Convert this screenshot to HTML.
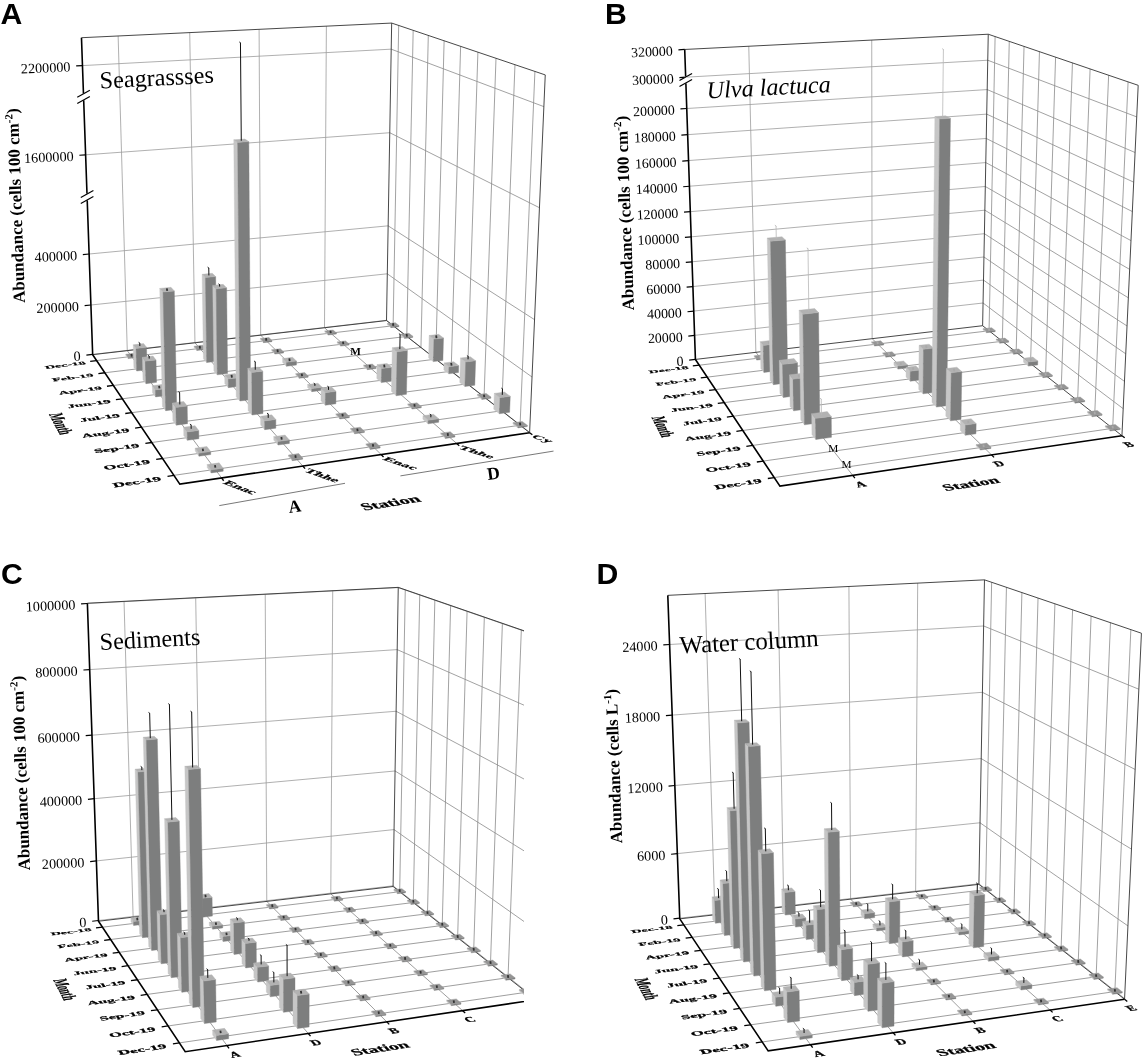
<!DOCTYPE html>
<html><head><meta charset="utf-8"><title>Figure</title><style>html,body{margin:0;padding:0;background:#fff}svg{display:block}</style></head><body>
<svg width="1142" height="1058" viewBox="0 0 1142 1058">
<defs><clipPath id="cc"><rect x="0" y="540" width="524" height="518"/></clipPath></defs>
<rect width="1142" height="1058" fill="#fff"/>
<g>
<line x1="92.66" y1="354.4" x2="386.5" y2="320.31" stroke="#9c9c9c" stroke-width="0.8"/>
<line x1="386.5" y1="320.31" x2="529.61" y2="432.39" stroke="#8a8a8a" stroke-width="0.8"/>
<line x1="90.91" y1="305" x2="387.31" y2="273.8" stroke="#9c9c9c" stroke-width="0.8"/>
<line x1="387.31" y1="273.8" x2="532.03" y2="376.99" stroke="#8a8a8a" stroke-width="0.8"/>
<line x1="89.11" y1="254" x2="388.14" y2="225.84" stroke="#9c9c9c" stroke-width="0.8"/>
<line x1="388.14" y1="225.84" x2="534.54" y2="319.66" stroke="#8a8a8a" stroke-width="0.8"/>
<line x1="85.61" y1="154.8" x2="389.76" y2="132.72" stroke="#9c9c9c" stroke-width="0.8"/>
<line x1="389.76" y1="132.72" x2="539.44" y2="207.73" stroke="#8a8a8a" stroke-width="0.8"/>
<line x1="82.46" y1="65.6" x2="391.21" y2="49.16" stroke="#9c9c9c" stroke-width="0.8"/>
<line x1="391.21" y1="49.16" x2="543.86" y2="106.63" stroke="#8a8a8a" stroke-width="0.8"/>
<line x1="127.28" y1="350.65" x2="118.13" y2="35.98" stroke="#9c9c9c" stroke-width="0.8"/>
<line x1="194.96" y1="342.8" x2="189.72" y2="32.6" stroke="#9c9c9c" stroke-width="0.8"/>
<line x1="260.67" y1="335.17" x2="259.1" y2="29.33" stroke="#9c9c9c" stroke-width="0.8"/>
<line x1="324.49" y1="327.76" x2="326.38" y2="26.15" stroke="#9c9c9c" stroke-width="0.8"/>
<line x1="393.12" y1="325.75" x2="398.69" y2="25.44" stroke="#8a8a8a" stroke-width="0.8"/>
<line x1="406.75" y1="336.43" x2="413.18" y2="30.34" stroke="#8a8a8a" stroke-width="0.8"/>
<line x1="420.94" y1="347.55" x2="428.31" y2="35.44" stroke="#8a8a8a" stroke-width="0.8"/>
<line x1="435.73" y1="359.14" x2="444.11" y2="40.78" stroke="#8a8a8a" stroke-width="0.8"/>
<line x1="451.15" y1="371.22" x2="460.62" y2="46.35" stroke="#8a8a8a" stroke-width="0.8"/>
<line x1="467.25" y1="383.84" x2="477.9" y2="52.18" stroke="#8a8a8a" stroke-width="0.8"/>
<line x1="484.07" y1="397.01" x2="496" y2="58.29" stroke="#8a8a8a" stroke-width="0.8"/>
<line x1="501.65" y1="410.79" x2="514.98" y2="64.7" stroke="#8a8a8a" stroke-width="0.8"/>
<line x1="520.07" y1="425.22" x2="534.91" y2="71.43" stroke="#8a8a8a" stroke-width="0.8"/>
<line x1="96.64" y1="360.57" x2="393.12" y2="325.75" stroke="#858585" stroke-width="0.8"/>
<line x1="104.85" y1="372.75" x2="406.75" y2="336.43" stroke="#858585" stroke-width="0.8"/>
<line x1="113.42" y1="385.47" x2="420.94" y2="347.55" stroke="#858585" stroke-width="0.8"/>
<line x1="122.37" y1="398.77" x2="435.73" y2="359.14" stroke="#858585" stroke-width="0.8"/>
<line x1="131.74" y1="412.67" x2="451.15" y2="371.22" stroke="#858585" stroke-width="0.8"/>
<line x1="141.55" y1="427.23" x2="467.25" y2="383.84" stroke="#858585" stroke-width="0.8"/>
<line x1="151.83" y1="442.49" x2="484.07" y2="397.01" stroke="#858585" stroke-width="0.8"/>
<line x1="162.62" y1="458.51" x2="501.65" y2="410.79" stroke="#858585" stroke-width="0.8"/>
<line x1="173.96" y1="475.34" x2="520.07" y2="425.22" stroke="#858585" stroke-width="0.8"/>
<line x1="127.28" y1="350.65" x2="221.57" y2="477.94" stroke="#858585" stroke-width="0.8"/>
<line x1="194.96" y1="342.8" x2="302.77" y2="466.02" stroke="#858585" stroke-width="0.8"/>
<line x1="260.67" y1="335.17" x2="381.07" y2="454.51" stroke="#858585" stroke-width="0.8"/>
<line x1="324.49" y1="327.76" x2="456.63" y2="443.41" stroke="#858585" stroke-width="0.8"/>
<line x1="81.48" y1="37.71" x2="391.66" y2="23.07" stroke="#333" stroke-width="0.9"/>
<line x1="391.66" y1="23.07" x2="545.25" y2="74.92" stroke="#333" stroke-width="0.9"/>
<line x1="386.5" y1="320.56" x2="391.66" y2="23.07" stroke="#333" stroke-width="0.9"/>
<line x1="529.6" y1="432.69" x2="545.25" y2="74.92" stroke="#333" stroke-width="0.9"/>
<line x1="92.67" y1="354.67" x2="386.5" y2="320.56" stroke="#333" stroke-width="0.9"/>
<line x1="386.5" y1="320.56" x2="529.6" y2="432.69" stroke="#333" stroke-width="0.9"/>
<polygon points="387.3,324.81 390.89,327.64 390.91,326.44 387.32,323.62" fill="#c6c6c6" stroke="#c6c6c6" stroke-width="0.4" stroke-linejoin="round"/>
<polygon points="390.89,327.64 398.95,326.69 398.98,325.49 390.91,326.44" fill="#7d7e7e" stroke="#7d7e7e" stroke-width="0.4" stroke-linejoin="round"/>
<polygon points="387.32,323.62 395.35,322.68 398.98,325.49 390.91,326.44" fill="#959595" stroke="#959595" stroke-width="0.4" stroke-linejoin="round"/>
<line x1="392.94" y1="323.25" x2="393.34" y2="325.85" stroke="#333" stroke-width="1.8"/>
<polygon points="324.79,332.13 328.09,335.04 328.1,333.84 324.8,330.93" fill="#c6c6c6" stroke="#c6c6c6" stroke-width="0.4" stroke-linejoin="round"/>
<polygon points="328.09,335.04 336.39,334.06 336.4,332.87 328.1,333.84" fill="#7d7e7e" stroke="#7d7e7e" stroke-width="0.4" stroke-linejoin="round"/>
<polygon points="324.8,330.93 333.06,329.97 336.4,332.87 328.1,333.84" fill="#959595" stroke="#959595" stroke-width="0.4" stroke-linejoin="round"/>
<line x1="330.39" y1="330.6" x2="330.79" y2="333.2" stroke="#333" stroke-width="1.8"/>
<polygon points="260.44,339.66 263.44,342.66 263.43,341.46 260.43,338.47" fill="#c6c6c6" stroke="#c6c6c6" stroke-width="0.4" stroke-linejoin="round"/>
<polygon points="263.44,342.66 271.98,341.65 271.98,340.46 263.43,341.46" fill="#7d7e7e" stroke="#7d7e7e" stroke-width="0.4" stroke-linejoin="round"/>
<polygon points="260.43,338.47 268.94,337.47 271.98,340.46 263.43,341.46" fill="#959595" stroke="#959595" stroke-width="0.4" stroke-linejoin="round"/>
<line x1="266" y1="338.16" x2="266.4" y2="340.76" stroke="#333" stroke-width="1.8"/>
<polygon points="194.17,347.42 196.84,350.51 196.82,349.31 194.15,346.23" fill="#c6c6c6" stroke="#c6c6c6" stroke-width="0.4" stroke-linejoin="round"/>
<polygon points="196.84,350.51 205.65,349.47 205.63,348.27 196.82,349.31" fill="#7d7e7e" stroke="#7d7e7e" stroke-width="0.4" stroke-linejoin="round"/>
<polygon points="194.15,346.23 202.91,345.2 205.63,348.27 196.82,349.31" fill="#959595" stroke="#959595" stroke-width="0.4" stroke-linejoin="round"/>
<line x1="199.68" y1="345.95" x2="200.08" y2="348.55" stroke="#333" stroke-width="1.8"/>
<polygon points="125.89,355.41 128.22,358.59 128.19,357.39 125.86,354.22" fill="#c6c6c6" stroke="#c6c6c6" stroke-width="0.4" stroke-linejoin="round"/>
<polygon points="128.22,358.59 137.29,357.52 137.26,356.33 128.19,357.39" fill="#7d7e7e" stroke="#7d7e7e" stroke-width="0.4" stroke-linejoin="round"/>
<polygon points="125.86,354.22 134.89,353.17 137.26,356.33 128.19,357.39" fill="#959595" stroke="#959595" stroke-width="0.4" stroke-linejoin="round"/>
<line x1="131.35" y1="353.97" x2="131.75" y2="356.57" stroke="#333" stroke-width="1.8"/>
<polygon points="400.79,335.45 404.53,338.4 404.55,337.2 400.82,334.26" fill="#c6c6c6" stroke="#c6c6c6" stroke-width="0.4" stroke-linejoin="round"/>
<polygon points="404.53,338.4 412.73,337.41 412.76,336.21 404.55,337.2" fill="#7d7e7e" stroke="#7d7e7e" stroke-width="0.4" stroke-linejoin="round"/>
<polygon points="400.82,334.26 408.98,333.28 412.76,336.21 404.55,337.2" fill="#959595" stroke="#959595" stroke-width="0.4" stroke-linejoin="round"/>
<line x1="406.58" y1="333.94" x2="406.98" y2="336.54" stroke="#333" stroke-width="1.8"/>
<polygon points="337.21,343.08 340.65,346.11 340.66,344.91 337.22,341.89" fill="#c6c6c6" stroke="#c6c6c6" stroke-width="0.4" stroke-linejoin="round"/>
<polygon points="340.65,346.11 349.09,345.09 349.1,343.9 340.66,344.91" fill="#7d7e7e" stroke="#7d7e7e" stroke-width="0.4" stroke-linejoin="round"/>
<polygon points="337.22,341.89 345.62,340.88 349.1,343.9 340.66,344.91" fill="#959595" stroke="#959595" stroke-width="0.4" stroke-linejoin="round"/>
<line x1="342.95" y1="341.59" x2="343.35" y2="344.19" stroke="#333" stroke-width="1.8"/>
<polygon points="271.71,350.93 274.84,354.06 274.83,352.86 271.71,349.74" fill="#c6c6c6" stroke="#c6c6c6" stroke-width="0.4" stroke-linejoin="round"/>
<polygon points="274.84,354.06 283.54,353.01 283.54,351.81 274.83,352.86" fill="#7d7e7e" stroke="#7d7e7e" stroke-width="0.4" stroke-linejoin="round"/>
<polygon points="271.71,349.74 280.37,348.7 283.54,351.81 274.83,352.86" fill="#959595" stroke="#959595" stroke-width="0.4" stroke-linejoin="round"/>
<line x1="277.41" y1="349.47" x2="277.81" y2="352.07" stroke="#333" stroke-width="1.8"/>
<polygon points="203.44,358.83 206.69,362.58 205.42,277.58 202.13,274.34" fill="#c6c6c6" stroke="#c6c6c6" stroke-width="0.4" stroke-linejoin="round"/>
<polygon points="206.69,362.58 216.77,361.36 215.67,276.54 205.42,277.58" fill="#7d7e7e" stroke="#7d7e7e" stroke-width="0.4" stroke-linejoin="round"/>
<polygon points="202.13,274.34 212.32,273.31 215.67,276.54 205.42,277.58" fill="#b2b2b2" stroke="#b2b2b2" stroke-width="0.4" stroke-linejoin="round"/>
<line x1="208.89" y1="275.44" x2="208.78" y2="267.94" stroke="#111" stroke-width="1.0"/>
<line x1="209.08" y1="268.24" x2="207.58" y2="267.14" stroke="#111" stroke-width="0.9"/>
<polygon points="133.87,367.16 136.7,371.03 136.08,348.53 133.25,344.8" fill="#c6c6c6" stroke="#c6c6c6" stroke-width="0.4" stroke-linejoin="round"/>
<polygon points="136.7,371.03 147.1,369.78 146.53,347.32 136.08,348.53" fill="#7d7e7e" stroke="#7d7e7e" stroke-width="0.4" stroke-linejoin="round"/>
<polygon points="133.25,344.8 143.63,343.61 146.53,347.32 136.08,348.53" fill="#b2b2b2" stroke="#b2b2b2" stroke-width="0.4" stroke-linejoin="round"/>
<line x1="139.87" y1="346.06" x2="139.79" y2="343.06" stroke="#111" stroke-width="1.0"/>
<line x1="140.09" y1="343.36" x2="138.59" y2="342.26" stroke="#111" stroke-width="0.9"/>
<polygon points="282.64,362.48 286.44,366.28 286.44,362.28 282.64,358.5" fill="#c6c6c6" stroke="#c6c6c6" stroke-width="0.4" stroke-linejoin="round"/>
<polygon points="286.44,366.28 296.41,365.05 296.41,361.05 286.44,362.28" fill="#7d7e7e" stroke="#7d7e7e" stroke-width="0.4" stroke-linejoin="round"/>
<polygon points="282.64,358.5 292.55,357.29 296.41,361.05 286.44,362.28" fill="#b2b2b2" stroke="#b2b2b2" stroke-width="0.4" stroke-linejoin="round"/>
<line x1="289.31" y1="358.48" x2="289.71" y2="361.08" stroke="#333" stroke-width="1.8"/>
<polygon points="213.9,370.92 217.29,374.84 216.18,288.84 212.74,285.45" fill="#c6c6c6" stroke="#c6c6c6" stroke-width="0.4" stroke-linejoin="round"/>
<polygon points="217.29,374.84 227.57,373.57 226.62,287.75 216.18,288.84" fill="#7d7e7e" stroke="#7d7e7e" stroke-width="0.4" stroke-linejoin="round"/>
<polygon points="212.74,285.45 223.12,284.37 226.62,287.75 216.18,288.84" fill="#b2b2b2" stroke="#b2b2b2" stroke-width="0.4" stroke-linejoin="round"/>
<line x1="219.66" y1="286.6" x2="219.64" y2="284.6" stroke="#111" stroke-width="1.0"/>
<line x1="219.94" y1="284.9" x2="218.44" y2="283.8" stroke="#111" stroke-width="0.9"/>
<polygon points="142.99,379.63 145.94,383.67 145.36,361.17 142.4,357.27" fill="#c6c6c6" stroke="#c6c6c6" stroke-width="0.4" stroke-linejoin="round"/>
<polygon points="145.94,383.67 156.55,382.36 156.01,359.91 145.36,361.17" fill="#7d7e7e" stroke="#7d7e7e" stroke-width="0.4" stroke-linejoin="round"/>
<polygon points="142.4,357.27 152.98,356.02 156.01,359.91 145.36,361.17" fill="#b2b2b2" stroke="#b2b2b2" stroke-width="0.4" stroke-linejoin="round"/>
<line x1="149.19" y1="358.59" x2="149.13" y2="356.09" stroke="#111" stroke-width="1.0"/>
<line x1="149.43" y1="356.39" x2="147.93" y2="355.29" stroke="#111" stroke-width="0.9"/>
<polygon points="428.61,357.88 433.34,361.62 433.92,339.12 429.17,335.52" fill="#c6c6c6" stroke="#c6c6c6" stroke-width="0.4" stroke-linejoin="round"/>
<polygon points="433.34,361.62 442.88,360.4 443.5,337.95 433.92,339.12" fill="#7d7e7e" stroke="#7d7e7e" stroke-width="0.4" stroke-linejoin="round"/>
<polygon points="429.17,335.52 438.7,334.37 443.5,337.95 433.92,339.12" fill="#b2b2b2" stroke="#b2b2b2" stroke-width="0.4" stroke-linejoin="round"/>
<line x1="436.12" y1="335.43" x2="436.52" y2="338.03" stroke="#333" stroke-width="1.8"/>
<polygon points="363.63,366.38 367.37,369.68 367.38,368.48 363.64,365.19" fill="#c6c6c6" stroke="#c6c6c6" stroke-width="0.4" stroke-linejoin="round"/>
<polygon points="367.37,369.68 376.12,368.57 376.14,367.37 367.38,368.48" fill="#7d7e7e" stroke="#7d7e7e" stroke-width="0.4" stroke-linejoin="round"/>
<polygon points="363.64,365.19 372.35,364.09 376.14,367.37 367.38,368.48" fill="#959595" stroke="#959595" stroke-width="0.4" stroke-linejoin="round"/>
<line x1="369.68" y1="364.97" x2="370.08" y2="367.57" stroke="#333" stroke-width="1.8"/>
<polygon points="295.72,374.94 299.12,378.34 299.12,377.14 295.72,373.74" fill="#c6c6c6" stroke="#c6c6c6" stroke-width="0.4" stroke-linejoin="round"/>
<polygon points="299.12,378.34 308.15,377.19 308.15,375.99 299.12,377.14" fill="#7d7e7e" stroke="#7d7e7e" stroke-width="0.4" stroke-linejoin="round"/>
<polygon points="295.72,373.74 304.7,372.61 308.15,375.99 299.12,377.14" fill="#959595" stroke="#959595" stroke-width="0.4" stroke-linejoin="round"/>
<line x1="301.72" y1="373.57" x2="302.12" y2="376.17" stroke="#333" stroke-width="1.8"/>
<polygon points="224.82,383.55 228.36,387.64 228.27,378.94 224.72,374.9" fill="#c6c6c6" stroke="#c6c6c6" stroke-width="0.4" stroke-linejoin="round"/>
<polygon points="228.36,387.64 238.84,386.31 238.77,377.63 228.27,378.94" fill="#7d7e7e" stroke="#7d7e7e" stroke-width="0.4" stroke-linejoin="round"/>
<polygon points="224.72,374.9 235.16,373.61 238.77,377.63 228.27,378.94" fill="#b2b2b2" stroke="#b2b2b2" stroke-width="0.4" stroke-linejoin="round"/>
<line x1="231.53" y1="374.96" x2="231.93" y2="377.56" stroke="#333" stroke-width="1.8"/>
<polygon points="152.51,392.66 155.59,396.88 155.42,389.88 152.33,385.7" fill="#c6c6c6" stroke="#c6c6c6" stroke-width="0.4" stroke-linejoin="round"/>
<polygon points="155.59,396.88 166.42,395.51 166.26,388.52 155.42,389.88" fill="#7d7e7e" stroke="#7d7e7e" stroke-width="0.4" stroke-linejoin="round"/>
<polygon points="152.33,385.7 163.1,384.36 166.26,388.52 155.42,389.88" fill="#b2b2b2" stroke="#b2b2b2" stroke-width="0.4" stroke-linejoin="round"/>
<line x1="159.08" y1="385.81" x2="159.48" y2="388.41" stroke="#333" stroke-width="1.8"/>
<polygon points="443.85,369.91 448.78,373.81 448.98,366.81 444.04,362.95" fill="#c6c6c6" stroke="#c6c6c6" stroke-width="0.4" stroke-linejoin="round"/>
<polygon points="448.78,373.81 458.49,372.54 458.71,365.56 448.98,366.81" fill="#7d7e7e" stroke="#7d7e7e" stroke-width="0.4" stroke-linejoin="round"/>
<polygon points="444.04,362.95 453.71,361.72 458.71,365.56 448.98,366.81" fill="#b2b2b2" stroke="#b2b2b2" stroke-width="0.4" stroke-linejoin="round"/>
<line x1="451.16" y1="362.95" x2="451.56" y2="365.55" stroke="#333" stroke-width="1.8"/>
<polygon points="376.82,378.57 381.37,382.59 381.61,368.59 377.04,364.66" fill="#c6c6c6" stroke="#c6c6c6" stroke-width="0.4" stroke-linejoin="round"/>
<polygon points="381.37,382.59 391.4,381.28 391.65,367.31 381.61,368.59" fill="#7d7e7e" stroke="#7d7e7e" stroke-width="0.4" stroke-linejoin="round"/>
<polygon points="377.04,364.66 387.03,363.4 391.65,367.31 381.61,368.59" fill="#b2b2b2" stroke="#b2b2b2" stroke-width="0.4" stroke-linejoin="round"/>
<line x1="384.13" y1="364.68" x2="384.53" y2="367.28" stroke="#333" stroke-width="1.8"/>
<polygon points="307.65,387.51 311.79,391.66 311.81,388.66 307.66,384.53" fill="#c6c6c6" stroke="#c6c6c6" stroke-width="0.4" stroke-linejoin="round"/>
<polygon points="311.79,391.66 322.14,390.31 322.16,387.31 311.81,388.66" fill="#7d7e7e" stroke="#7d7e7e" stroke-width="0.4" stroke-linejoin="round"/>
<polygon points="307.66,384.53 317.95,383.21 322.16,387.31 311.81,388.66" fill="#b2b2b2" stroke="#b2b2b2" stroke-width="0.4" stroke-linejoin="round"/>
<line x1="314.89" y1="385.92" x2="314.9" y2="383.92" stroke="#111" stroke-width="1.0"/>
<line x1="315.2" y1="384.22" x2="313.7" y2="383.12" stroke="#111" stroke-width="0.9"/>
<polygon points="236.24,396.74 239.94,401.02 237.63,142.42 233.77,139.85" fill="#c6c6c6" stroke="#c6c6c6" stroke-width="0.4" stroke-linejoin="round"/>
<polygon points="239.94,401.02 250.63,399.63 248.82,141.61 237.63,142.42" fill="#7d7e7e" stroke="#7d7e7e" stroke-width="0.4" stroke-linejoin="round"/>
<polygon points="233.77,139.85 244.89,139.05 248.82,141.61 237.63,142.42" fill="#b2b2b2" stroke="#b2b2b2" stroke-width="0.4" stroke-linejoin="round"/>
<line x1="241.28" y1="140.73" x2="240.46" y2="42.73" stroke="#111" stroke-width="1.0"/>
<line x1="240.76" y1="43.03" x2="239.26" y2="41.93" stroke="#111" stroke-width="0.9"/>
<polygon points="162.46,406.27 165.69,410.69 163.03,292.09 159.75,288.45" fill="#c6c6c6" stroke="#c6c6c6" stroke-width="0.4" stroke-linejoin="round"/>
<polygon points="165.69,410.69 176.74,409.25 174.32,290.92 163.03,292.09" fill="#7d7e7e" stroke="#7d7e7e" stroke-width="0.4" stroke-linejoin="round"/>
<polygon points="159.75,288.45 170.97,287.29 174.32,290.92 163.03,292.09" fill="#b2b2b2" stroke="#b2b2b2" stroke-width="0.4" stroke-linejoin="round"/>
<line x1="166.82" y1="288.38" x2="167.22" y2="290.98" stroke="#333" stroke-width="1.8"/>
<polygon points="459.75,382.47 464.9,386.54 465.68,361.94 460.5,358.02" fill="#c6c6c6" stroke="#c6c6c6" stroke-width="0.4" stroke-linejoin="round"/>
<polygon points="464.9,386.54 474.79,385.21 475.61,360.66 465.68,361.94" fill="#7d7e7e" stroke="#7d7e7e" stroke-width="0.4" stroke-linejoin="round"/>
<polygon points="460.5,358.02 470.37,356.77 475.61,360.66 465.68,361.94" fill="#b2b2b2" stroke="#b2b2b2" stroke-width="0.4" stroke-linejoin="round"/>
<line x1="468.04" y1="359.34" x2="468.13" y2="356.34" stroke="#111" stroke-width="1.0"/>
<line x1="468.43" y1="356.64" x2="466.93" y2="355.54" stroke="#111" stroke-width="0.9"/>
<polygon points="391.49,391.52 396.25,395.72 397.1,351.72 392.3,347.8" fill="#c6c6c6" stroke="#c6c6c6" stroke-width="0.4" stroke-linejoin="round"/>
<polygon points="396.25,395.72 406.46,394.35 407.39,350.45 397.1,351.72" fill="#7d7e7e" stroke="#7d7e7e" stroke-width="0.4" stroke-linejoin="round"/>
<polygon points="392.3,347.8 402.53,346.55 407.39,350.45 397.1,351.72" fill="#b2b2b2" stroke="#b2b2b2" stroke-width="0.4" stroke-linejoin="round"/>
<line x1="399.83" y1="349.12" x2="400.12" y2="334.42" stroke="#111" stroke-width="1.0"/>
<line x1="400.42" y1="334.72" x2="398.92" y2="333.62" stroke="#111" stroke-width="0.9"/>
<polygon points="321,400.87 325.33,405.21 325.42,392.71 321.07,388.45" fill="#c6c6c6" stroke="#c6c6c6" stroke-width="0.4" stroke-linejoin="round"/>
<polygon points="325.33,405.21 335.88,403.8 335.99,391.32 325.42,392.71" fill="#7d7e7e" stroke="#7d7e7e" stroke-width="0.4" stroke-linejoin="round"/>
<polygon points="321.07,388.45 331.58,387.09 335.99,391.32 325.42,392.71" fill="#b2b2b2" stroke="#b2b2b2" stroke-width="0.4" stroke-linejoin="round"/>
<line x1="328.51" y1="389.89" x2="328.54" y2="386.89" stroke="#111" stroke-width="1.0"/>
<line x1="328.84" y1="387.19" x2="327.34" y2="386.09" stroke="#111" stroke-width="0.9"/>
<polygon points="248.17,410.54 252.05,415.01 251.76,372.51 247.86,368.31" fill="#c6c6c6" stroke="#c6c6c6" stroke-width="0.4" stroke-linejoin="round"/>
<polygon points="252.05,415.01 262.95,413.55 262.75,371.15 251.76,372.51" fill="#7d7e7e" stroke="#7d7e7e" stroke-width="0.4" stroke-linejoin="round"/>
<polygon points="247.86,368.31 258.78,366.97 262.75,371.15 251.76,372.51" fill="#b2b2b2" stroke="#b2b2b2" stroke-width="0.4" stroke-linejoin="round"/>
<line x1="255.28" y1="369.73" x2="255.23" y2="361.73" stroke="#111" stroke-width="1.0"/>
<line x1="255.53" y1="362.03" x2="254.03" y2="360.93" stroke="#111" stroke-width="0.9"/>
<polygon points="172.88,420.52 176.26,425.15 175.9,407.45 172.51,402.94" fill="#c6c6c6" stroke="#c6c6c6" stroke-width="0.4" stroke-linejoin="round"/>
<polygon points="176.26,425.15 187.54,423.64 187.21,405.98 175.9,407.45" fill="#7d7e7e" stroke="#7d7e7e" stroke-width="0.4" stroke-linejoin="round"/>
<polygon points="172.51,402.94 183.75,401.49 187.21,405.98 175.9,407.45" fill="#b2b2b2" stroke="#b2b2b2" stroke-width="0.4" stroke-linejoin="round"/>
<line x1="179.84" y1="404.46" x2="179.6" y2="392.46" stroke="#111" stroke-width="1.0"/>
<line x1="179.9" y1="392.76" x2="178.4" y2="391.66" stroke="#111" stroke-width="0.9"/>
<polygon points="477.29,395.81 481.91,399.45 481.96,398.25 477.34,394.62" fill="#c6c6c6" stroke="#c6c6c6" stroke-width="0.4" stroke-linejoin="round"/>
<polygon points="481.91,399.45 490.87,398.22 490.91,397.03 481.96,398.25" fill="#7d7e7e" stroke="#7d7e7e" stroke-width="0.4" stroke-linejoin="round"/>
<polygon points="477.34,394.62 486.25,393.4 490.91,397.03 481.96,398.25" fill="#959595" stroke="#959595" stroke-width="0.4" stroke-linejoin="round"/>
<line x1="483.91" y1="394.52" x2="484.31" y2="397.12" stroke="#333" stroke-width="1.8"/>
<polygon points="407.75,405.29 412.02,409.06 412.05,407.86 407.78,404.1" fill="#c6c6c6" stroke="#c6c6c6" stroke-width="0.4" stroke-linejoin="round"/>
<polygon points="412.02,409.06 421.27,407.79 421.3,406.59 412.05,407.86" fill="#7d7e7e" stroke="#7d7e7e" stroke-width="0.4" stroke-linejoin="round"/>
<polygon points="407.78,404.1 416.99,402.85 421.3,406.59 412.05,407.86" fill="#959595" stroke="#959595" stroke-width="0.4" stroke-linejoin="round"/>
<line x1="414.33" y1="404.04" x2="414.73" y2="406.64" stroke="#333" stroke-width="1.8"/>
<polygon points="335.88,415.09 339.77,418.98 339.78,417.78 335.89,413.9" fill="#c6c6c6" stroke="#c6c6c6" stroke-width="0.4" stroke-linejoin="round"/>
<polygon points="339.77,418.98 349.34,417.67 349.35,416.47 339.78,417.78" fill="#7d7e7e" stroke="#7d7e7e" stroke-width="0.4" stroke-linejoin="round"/>
<polygon points="335.89,413.9 345.41,412.61 349.35,416.47 339.78,417.78" fill="#959595" stroke="#959595" stroke-width="0.4" stroke-linejoin="round"/>
<line x1="342.41" y1="413.88" x2="342.81" y2="416.48" stroke="#333" stroke-width="1.8"/>
<polygon points="260.67,424.98 264.72,429.67 264.69,420.97 260.62,416.34" fill="#c6c6c6" stroke="#c6c6c6" stroke-width="0.4" stroke-linejoin="round"/>
<polygon points="264.72,429.67 275.85,428.14 275.83,419.46 264.69,420.97" fill="#7d7e7e" stroke="#7d7e7e" stroke-width="0.4" stroke-linejoin="round"/>
<polygon points="260.62,416.34 271.7,414.85 275.83,419.46 264.69,420.97" fill="#b2b2b2" stroke="#b2b2b2" stroke-width="0.4" stroke-linejoin="round"/>
<line x1="268.21" y1="417.89" x2="268.19" y2="413.89" stroke="#111" stroke-width="1.0"/>
<line x1="268.49" y1="414.19" x2="266.99" y2="413.09" stroke="#111" stroke-width="0.9"/>
<polygon points="183.79,435.46 187.34,440.31 187.18,432.01 183.63,427.21" fill="#c6c6c6" stroke="#c6c6c6" stroke-width="0.4" stroke-linejoin="round"/>
<polygon points="187.34,440.31 198.86,438.73 198.72,430.44 187.18,432.01" fill="#7d7e7e" stroke="#7d7e7e" stroke-width="0.4" stroke-linejoin="round"/>
<polygon points="183.63,427.21 195.09,425.67 198.72,430.44 187.18,432.01" fill="#b2b2b2" stroke="#b2b2b2" stroke-width="0.4" stroke-linejoin="round"/>
<line x1="191.16" y1="428.82" x2="191.09" y2="424.82" stroke="#111" stroke-width="1.0"/>
<line x1="191.39" y1="425.12" x2="189.89" y2="424.02" stroke="#111" stroke-width="0.9"/>
<polygon points="493.73,409.3 499.36,413.75 499.97,397.75 494.32,393.4" fill="#c6c6c6" stroke="#c6c6c6" stroke-width="0.4" stroke-linejoin="round"/>
<polygon points="499.36,413.75 509.62,412.3 510.26,396.33 499.97,397.75" fill="#7d7e7e" stroke="#7d7e7e" stroke-width="0.4" stroke-linejoin="round"/>
<polygon points="494.32,393.4 504.54,392.01 510.26,396.33 499.97,397.75" fill="#b2b2b2" stroke="#b2b2b2" stroke-width="0.4" stroke-linejoin="round"/>
<line x1="502.27" y1="394.86" x2="502.5" y2="388.86" stroke="#111" stroke-width="1.0"/>
<line x1="502.8" y1="389.16" x2="501.3" y2="388.06" stroke="#111" stroke-width="0.9"/>
<polygon points="422.87,419.22 428.08,423.82 428.17,420.32 422.96,415.75" fill="#c6c6c6" stroke="#c6c6c6" stroke-width="0.4" stroke-linejoin="round"/>
<polygon points="428.08,423.82 438.69,422.32 438.79,418.83 428.17,420.32" fill="#7d7e7e" stroke="#7d7e7e" stroke-width="0.4" stroke-linejoin="round"/>
<polygon points="422.96,415.75 433.51,414.28 438.79,418.83 428.17,420.32" fill="#b2b2b2" stroke="#b2b2b2" stroke-width="0.4" stroke-linejoin="round"/>
<line x1="430.85" y1="417.29" x2="430.92" y2="414.79" stroke="#111" stroke-width="1.0"/>
<line x1="431.22" y1="415.09" x2="429.72" y2="413.99" stroke="#111" stroke-width="0.9"/>
<polygon points="350.54,429.74 354.61,433.82 354.63,432.62 350.55,428.55" fill="#c6c6c6" stroke="#c6c6c6" stroke-width="0.4" stroke-linejoin="round"/>
<polygon points="354.61,433.82 364.37,432.44 364.39,431.24 354.63,432.62" fill="#7d7e7e" stroke="#7d7e7e" stroke-width="0.4" stroke-linejoin="round"/>
<polygon points="350.55,428.55 360.26,427.19 364.39,431.24 354.63,432.62" fill="#959595" stroke="#959595" stroke-width="0.4" stroke-linejoin="round"/>
<line x1="357.25" y1="428.6" x2="357.65" y2="431.2" stroke="#333" stroke-width="1.8"/>
<polygon points="273.76,440.12 278.02,445.04 278.01,441.54 273.75,436.64" fill="#c6c6c6" stroke="#c6c6c6" stroke-width="0.4" stroke-linejoin="round"/>
<polygon points="278.02,445.04 289.38,443.43 289.38,439.94 278.01,441.54" fill="#7d7e7e" stroke="#7d7e7e" stroke-width="0.4" stroke-linejoin="round"/>
<polygon points="273.75,436.64 285.05,435.07 289.38,439.94 278.01,441.54" fill="#b2b2b2" stroke="#b2b2b2" stroke-width="0.4" stroke-linejoin="round"/>
<line x1="281.35" y1="436.99" x2="281.75" y2="439.59" stroke="#333" stroke-width="1.8"/>
<polygon points="195.24,451.12 198.96,456.21 198.91,453.21 195.19,448.14" fill="#c6c6c6" stroke="#c6c6c6" stroke-width="0.4" stroke-linejoin="round"/>
<polygon points="198.96,456.21 210.74,454.55 210.69,451.55 198.91,453.21" fill="#7d7e7e" stroke="#7d7e7e" stroke-width="0.4" stroke-linejoin="round"/>
<polygon points="195.19,448.14 206.89,446.51 210.69,451.55 198.91,453.21" fill="#b2b2b2" stroke="#b2b2b2" stroke-width="0.4" stroke-linejoin="round"/>
<line x1="202.72" y1="448.54" x2="203.12" y2="451.14" stroke="#333" stroke-width="1.8"/>
<polygon points="512.9,423.9 517.96,427.89 518.01,426.7 512.95,422.71" fill="#c6c6c6" stroke="#c6c6c6" stroke-width="0.4" stroke-linejoin="round"/>
<polygon points="517.96,427.89 527.26,426.54 527.31,425.35 518.01,426.7" fill="#7d7e7e" stroke="#7d7e7e" stroke-width="0.4" stroke-linejoin="round"/>
<polygon points="512.95,422.71 522.2,421.38 527.31,425.35 518.01,426.7" fill="#959595" stroke="#959595" stroke-width="0.4" stroke-linejoin="round"/>
<line x1="519.92" y1="422.72" x2="520.32" y2="425.32" stroke="#333" stroke-width="1.8"/>
<polygon points="440.67,434.32 445.35,438.45 445.39,437.25 440.7,433.13" fill="#c6c6c6" stroke="#c6c6c6" stroke-width="0.4" stroke-linejoin="round"/>
<polygon points="445.35,438.45 454.97,437.05 455.01,435.86 445.39,437.25" fill="#7d7e7e" stroke="#7d7e7e" stroke-width="0.4" stroke-linejoin="round"/>
<polygon points="440.7,433.13 450.27,431.75 455.01,435.86 445.39,437.25" fill="#959595" stroke="#959595" stroke-width="0.4" stroke-linejoin="round"/>
<line x1="447.64" y1="433.19" x2="448.04" y2="435.79" stroke="#333" stroke-width="1.8"/>
<polygon points="365.9,445.1 370.17,449.38 370.19,448.18 365.91,443.91" fill="#c6c6c6" stroke="#c6c6c6" stroke-width="0.4" stroke-linejoin="round"/>
<polygon points="370.17,449.38 380.13,447.93 380.15,446.73 370.19,448.18" fill="#7d7e7e" stroke="#7d7e7e" stroke-width="0.4" stroke-linejoin="round"/>
<polygon points="365.91,443.91 375.82,442.49 380.15,446.73 370.19,448.18" fill="#959595" stroke="#959595" stroke-width="0.4" stroke-linejoin="round"/>
<line x1="372.82" y1="444.02" x2="373.22" y2="446.62" stroke="#333" stroke-width="1.8"/>
<polygon points="288.46,456.27 292.29,460.7 292.29,459.5 288.46,455.08" fill="#c6c6c6" stroke="#c6c6c6" stroke-width="0.4" stroke-linejoin="round"/>
<polygon points="292.29,460.7 302.61,459.2 302.62,458 292.29,459.5" fill="#7d7e7e" stroke="#7d7e7e" stroke-width="0.4" stroke-linejoin="round"/>
<polygon points="288.46,455.08 298.72,453.6 302.62,458 292.29,459.5" fill="#959595" stroke="#959595" stroke-width="0.4" stroke-linejoin="round"/>
<line x1="295.32" y1="455.24" x2="295.72" y2="457.84" stroke="#333" stroke-width="1.8"/>
<polygon points="207.26,467.57 211.17,472.92 211.13,469.92 207.22,464.59" fill="#c6c6c6" stroke="#c6c6c6" stroke-width="0.4" stroke-linejoin="round"/>
<polygon points="211.17,472.92 223.21,471.17 223.18,468.17 211.13,469.92" fill="#7d7e7e" stroke="#7d7e7e" stroke-width="0.4" stroke-linejoin="round"/>
<polygon points="207.22,464.59 219.18,462.87 223.18,468.17 211.13,469.92" fill="#b2b2b2" stroke="#b2b2b2" stroke-width="0.4" stroke-linejoin="round"/>
<line x1="214.98" y1="465.08" x2="215.38" y2="467.68" stroke="#333" stroke-width="1.8"/>
<polyline points="81.48,37.71 92.67,354.67 179.84,484.08 529.6,432.69" fill="none" stroke="#000" stroke-width="1.6" stroke-linejoin="miter"/>
<line x1="92.66" y1="354.4" x2="86.4" y2="355.13" stroke="#000" stroke-width="1.2"/>
<text transform="translate(80.9 360.73) rotate(-2.4)" font-family="'Liberation Serif',serif" font-size="14.2" font-weight="normal" font-style="normal" text-anchor="end">0</text>
<line x1="90.91" y1="305" x2="84.65" y2="305.66" stroke="#000" stroke-width="1.2"/>
<text transform="translate(79.15 311.26) rotate(-2.4)" font-family="'Liberation Serif',serif" font-size="14.2" font-weight="normal" font-style="normal" text-anchor="end">200000</text>
<line x1="89.11" y1="254" x2="82.84" y2="254.59" stroke="#000" stroke-width="1.2"/>
<text transform="translate(77.34 260.19) rotate(-2.4)" font-family="'Liberation Serif',serif" font-size="14.2" font-weight="normal" font-style="normal" text-anchor="end">400000</text>
<line x1="85.61" y1="154.8" x2="79.33" y2="155.26" stroke="#000" stroke-width="1.2"/>
<text transform="translate(73.83 160.86) rotate(-2.4)" font-family="'Liberation Serif',serif" font-size="14.2" font-weight="normal" font-style="normal" text-anchor="end">1600000</text>
<line x1="82.46" y1="65.6" x2="76.17" y2="65.93" stroke="#000" stroke-width="1.2"/>
<text transform="translate(70.67 71.53) rotate(-2.4)" font-family="'Liberation Serif',serif" font-size="14.2" font-weight="normal" font-style="normal" text-anchor="end">2200000</text>
<line x1="83.71" y1="100.2" x2="83.41" y2="93.4" stroke="#fff" stroke-width="3"/>
<line x1="77.26" y1="97.2" x2="89.86" y2="90.2" stroke="#000" stroke-width="1.2"/>
<line x1="77.26" y1="103.4" x2="89.86" y2="96.4" stroke="#000" stroke-width="1.2"/>
<line x1="87.25" y1="200.4" x2="86.95" y2="193.6" stroke="#fff" stroke-width="3"/>
<line x1="80.8" y1="197.4" x2="93.4" y2="190.4" stroke="#000" stroke-width="1.2"/>
<line x1="80.8" y1="203.6" x2="93.4" y2="196.6" stroke="#000" stroke-width="1.2"/>
<line x1="96.64" y1="360.57" x2="90.19" y2="361.33" stroke="#000" stroke-width="1.3"/>
<text transform="matrix(1.3743 -0.1621 0.2761 0.4239 86.30 364.12)" font-family="'Liberation Serif',serif" font-size="10" font-weight="bold" font-style="normal" text-anchor="end" stroke="#000" stroke-width="0.3">Dec-18</text>
<line x1="104.85" y1="372.75" x2="98.4" y2="373.53" stroke="#000" stroke-width="1.3"/>
<text transform="matrix(1.4017 -0.1694 0.2882 0.4425 94.34 376.46)" font-family="'Liberation Serif',serif" font-size="10" font-weight="bold" font-style="normal" text-anchor="end" stroke="#000" stroke-width="0.3">Feb-19</text>
<line x1="113.42" y1="385.47" x2="106.97" y2="386.27" stroke="#000" stroke-width="1.3"/>
<text transform="matrix(1.4301 -0.1771 0.3011 0.4623 102.73 389.34)" font-family="'Liberation Serif',serif" font-size="10" font-weight="bold" font-style="normal" text-anchor="end" stroke="#000" stroke-width="0.3">Apr-19</text>
<line x1="122.37" y1="398.77" x2="115.92" y2="399.58" stroke="#000" stroke-width="1.3"/>
<text transform="matrix(1.4597 -0.1854 0.3149 0.4835 111.50 402.81)" font-family="'Liberation Serif',serif" font-size="10" font-weight="bold" font-style="normal" text-anchor="end" stroke="#000" stroke-width="0.3">Jun-19</text>
<line x1="131.74" y1="412.67" x2="125.29" y2="413.51" stroke="#000" stroke-width="1.3"/>
<text transform="matrix(1.4906 -0.1943 0.3297 0.5062 120.68 416.91)" font-family="'Liberation Serif',serif" font-size="10" font-weight="bold" font-style="normal" text-anchor="end" stroke="#000" stroke-width="0.3">Jul-19</text>
<line x1="141.55" y1="427.23" x2="135.1" y2="428.09" stroke="#000" stroke-width="1.3"/>
<text transform="matrix(1.5227 -0.2038 0.3455 0.5305 130.30 431.67)" font-family="'Liberation Serif',serif" font-size="10" font-weight="bold" font-style="normal" text-anchor="end" stroke="#000" stroke-width="0.3">Aug-19</text>
<line x1="151.83" y1="442.49" x2="145.39" y2="443.37" stroke="#000" stroke-width="1.3"/>
<text transform="matrix(1.5563 -0.2141 0.3625 0.5566 140.38 447.15)" font-family="'Liberation Serif',serif" font-size="10" font-weight="bold" font-style="normal" text-anchor="end" stroke="#000" stroke-width="0.3">Sep-19</text>
<line x1="162.62" y1="458.51" x2="156.18" y2="459.41" stroke="#000" stroke-width="1.3"/>
<text transform="matrix(1.5914 -0.2251 0.3808 0.5847 150.97 463.41)" font-family="'Liberation Serif',serif" font-size="10" font-weight="bold" font-style="normal" text-anchor="end" stroke="#000" stroke-width="0.3">Oct-19</text>
<line x1="173.96" y1="475.34" x2="167.52" y2="476.27" stroke="#000" stroke-width="1.3"/>
<text transform="matrix(1.6281 -0.2370 0.4005 0.6150 162.09 480.49)" font-family="'Liberation Serif',serif" font-size="10" font-weight="bold" font-style="normal" text-anchor="end" stroke="#000" stroke-width="0.3">Dec-19</text>
<line x1="221.57" y1="477.94" x2="223.66" y2="480.76" stroke="#000" stroke-width="1.3"/>
<line x1="302.77" y1="466.02" x2="305.07" y2="468.65" stroke="#000" stroke-width="1.3"/>
<line x1="381.07" y1="454.51" x2="383.55" y2="456.97" stroke="#000" stroke-width="1.3"/>
<line x1="456.63" y1="443.41" x2="459.27" y2="445.71" stroke="#000" stroke-width="1.3"/>
<line x1="529.6" y1="432.69" x2="532.35" y2="434.85" stroke="#000" stroke-width="1.3"/>
<text transform="translate(100 88.6) rotate(-3)" font-family="'Liberation Serif',serif" font-size="24.2" font-weight="normal" font-style="normal" text-anchor="start">Seagrassses</text>
<text transform="translate(21.5 205.5) rotate(-92)" font-family="'Liberation Serif',serif" font-size="17" font-weight="bold" font-style="normal" text-anchor="middle">Abundance (cells 100 cm<tspan dy="-6" font-size="11">-2</tspan><tspan dy="6">)</tspan></text>
<text transform="translate(355.7 355.3) rotate(0)" font-family="'Liberation Serif',serif" font-size="11.3" font-weight="bold" font-style="normal" text-anchor="middle">M</text>
<text transform="matrix(1.2416 0.4723 -0.8520 0.4081 222.16 483.26)" font-family="'Liberation Serif',serif" font-size="11.2" font-weight="bold" font-style="normal" text-anchor="start" stroke="#000" stroke-width="0.3">Enac</text>
<text transform="matrix(1.2733 0.4556 -0.7884 0.3936 303.57 471.15)" font-family="'Liberation Serif',serif" font-size="11.2" font-weight="bold" font-style="normal" text-anchor="start" stroke="#000" stroke-width="0.3">Thhe</text>
<text transform="matrix(1.3019 0.4398 -0.7288 0.3797 382.05 459.47)" font-family="'Liberation Serif',serif" font-size="11.2" font-weight="bold" font-style="normal" text-anchor="start" stroke="#000" stroke-width="0.3">Enac</text>
<text transform="matrix(1.3277 0.4248 -0.6729 0.3666 457.77 448.21)" font-family="'Liberation Serif',serif" font-size="11.2" font-weight="bold" font-style="normal" text-anchor="start" stroke="#000" stroke-width="0.3">Thhe</text>
<text transform="matrix(1.3510 0.4106 -0.6203 0.3542 530.85 437.35)" font-family="'Liberation Serif',serif" font-size="11.2" font-weight="bold" font-style="normal" text-anchor="start" stroke="#000" stroke-width="0.3">Cy</text>
<text transform="matrix(1.4514 -0.2312 0.6940 0.7283 393.20 506.00)" font-family="'Liberation Serif',serif" font-size="13" font-weight="bold" font-style="normal" text-anchor="middle" stroke="#000" stroke-width="0.3">Station</text>
<text transform="matrix(0.3081 0.5725 -1.5319 0.1994 54.50 424.70)" font-family="'Liberation Serif',serif" font-size="12.5" font-weight="bold" font-style="normal" text-anchor="middle" stroke="#000" stroke-width="0.3">Month</text>
<line x1="219.3" y1="505.6" x2="345" y2="483.3" stroke="#555" stroke-width="0.8"/>
<line x1="400.4" y1="475.9" x2="553.5" y2="451.1" stroke="#555" stroke-width="0.8"/>
<text transform="translate(295.6 512) rotate(-8)" font-family="'Liberation Serif',serif" font-size="17.5" font-weight="bold" font-style="normal" text-anchor="middle">A</text>
<text transform="translate(494.3 479) rotate(-8)" font-family="'Liberation Serif',serif" font-size="17.5" font-weight="bold" font-style="normal" text-anchor="middle">D</text>
</g>
<g>
<line x1="694.59" y1="335.35" x2="983.06" y2="303" stroke="#9c9c9c" stroke-width="0.8"/>
<line x1="983.06" y1="303" x2="1123.19" y2="408.67" stroke="#8a8a8a" stroke-width="0.8"/>
<line x1="693.75" y1="311.06" x2="983.5" y2="280.09" stroke="#9c9c9c" stroke-width="0.8"/>
<line x1="983.5" y1="280.09" x2="1124.46" y2="381.38" stroke="#8a8a8a" stroke-width="0.8"/>
<line x1="692.9" y1="286.55" x2="983.95" y2="256.99" stroke="#9c9c9c" stroke-width="0.8"/>
<line x1="983.95" y1="256.99" x2="1125.74" y2="353.81" stroke="#8a8a8a" stroke-width="0.8"/>
<line x1="692.05" y1="261.81" x2="984.4" y2="233.69" stroke="#9c9c9c" stroke-width="0.8"/>
<line x1="984.4" y1="233.69" x2="1127.03" y2="325.96" stroke="#8a8a8a" stroke-width="0.8"/>
<line x1="691.19" y1="236.85" x2="984.86" y2="210.19" stroke="#9c9c9c" stroke-width="0.8"/>
<line x1="984.86" y1="210.19" x2="1128.33" y2="297.81" stroke="#8a8a8a" stroke-width="0.8"/>
<line x1="690.31" y1="211.66" x2="985.31" y2="186.49" stroke="#9c9c9c" stroke-width="0.8"/>
<line x1="985.31" y1="186.49" x2="1129.65" y2="269.36" stroke="#8a8a8a" stroke-width="0.8"/>
<line x1="689.44" y1="186.23" x2="985.78" y2="162.58" stroke="#9c9c9c" stroke-width="0.8"/>
<line x1="985.78" y1="162.58" x2="1130.99" y2="240.61" stroke="#8a8a8a" stroke-width="0.8"/>
<line x1="688.55" y1="160.56" x2="986.24" y2="138.46" stroke="#9c9c9c" stroke-width="0.8"/>
<line x1="986.24" y1="138.46" x2="1132.33" y2="211.55" stroke="#8a8a8a" stroke-width="0.8"/>
<line x1="687.65" y1="134.65" x2="986.71" y2="114.13" stroke="#9c9c9c" stroke-width="0.8"/>
<line x1="986.71" y1="114.13" x2="1133.69" y2="182.18" stroke="#8a8a8a" stroke-width="0.8"/>
<line x1="686.75" y1="108.5" x2="987.19" y2="89.58" stroke="#9c9c9c" stroke-width="0.8"/>
<line x1="987.19" y1="89.58" x2="1135.07" y2="152.49" stroke="#8a8a8a" stroke-width="0.8"/>
<line x1="685.67" y1="77.2" x2="987.76" y2="60.22" stroke="#9c9c9c" stroke-width="0.8"/>
<line x1="987.76" y1="60.22" x2="1136.72" y2="116.9" stroke="#8a8a8a" stroke-width="0.8"/>
<line x1="755.87" y1="352.32" x2="748.78" y2="46.24" stroke="#9c9c9c" stroke-width="0.8"/>
<line x1="872.13" y1="338.67" x2="871.74" y2="40.07" stroke="#9c9c9c" stroke-width="0.8"/>
<line x1="989.06" y1="330.79" x2="995.12" y2="36.56" stroke="#8a8a8a" stroke-width="0.8"/>
<line x1="1002.34" y1="341.27" x2="1009.27" y2="41.38" stroke="#8a8a8a" stroke-width="0.8"/>
<line x1="1016.16" y1="352.18" x2="1024.04" y2="46.42" stroke="#8a8a8a" stroke-width="0.8"/>
<line x1="1030.56" y1="363.55" x2="1039.46" y2="51.67" stroke="#8a8a8a" stroke-width="0.8"/>
<line x1="1045.58" y1="375.4" x2="1055.58" y2="57.16" stroke="#8a8a8a" stroke-width="0.8"/>
<line x1="1061.25" y1="387.77" x2="1072.44" y2="62.91" stroke="#8a8a8a" stroke-width="0.8"/>
<line x1="1077.62" y1="400.69" x2="1090.11" y2="68.93" stroke="#8a8a8a" stroke-width="0.8"/>
<line x1="1094.74" y1="414.2" x2="1108.64" y2="75.25" stroke="#8a8a8a" stroke-width="0.8"/>
<line x1="1112.66" y1="428.35" x2="1128.09" y2="81.88" stroke="#8a8a8a" stroke-width="0.8"/>
<line x1="699.28" y1="365.2" x2="989.06" y2="330.79" stroke="#858585" stroke-width="0.8"/>
<line x1="707.24" y1="377.13" x2="1002.34" y2="341.27" stroke="#858585" stroke-width="0.8"/>
<line x1="715.56" y1="389.59" x2="1016.16" y2="352.18" stroke="#858585" stroke-width="0.8"/>
<line x1="724.24" y1="402.6" x2="1030.56" y2="363.55" stroke="#858585" stroke-width="0.8"/>
<line x1="733.32" y1="416.22" x2="1045.58" y2="375.4" stroke="#858585" stroke-width="0.8"/>
<line x1="742.84" y1="430.47" x2="1061.25" y2="387.77" stroke="#858585" stroke-width="0.8"/>
<line x1="752.8" y1="445.41" x2="1077.62" y2="400.69" stroke="#858585" stroke-width="0.8"/>
<line x1="763.26" y1="461.09" x2="1094.74" y2="414.2" stroke="#858585" stroke-width="0.8"/>
<line x1="774.25" y1="477.56" x2="1112.66" y2="428.35" stroke="#858585" stroke-width="0.8"/>
<line x1="755.87" y1="352.32" x2="852.74" y2="475.37" stroke="#858585" stroke-width="0.8"/>
<line x1="872.13" y1="338.67" x2="991.53" y2="454.9" stroke="#858585" stroke-width="0.8"/>
<line x1="684.71" y1="49.46" x2="988.26" y2="34.22" stroke="#333" stroke-width="0.9"/>
<line x1="988.26" y1="34.22" x2="1138.19" y2="85.32" stroke="#333" stroke-width="0.9"/>
<line x1="982.62" y1="325.71" x2="988.26" y2="34.22" stroke="#333" stroke-width="0.9"/>
<line x1="1121.94" y1="435.67" x2="1138.19" y2="85.32" stroke="#333" stroke-width="0.9"/>
<line x1="695.42" y1="359.41" x2="982.62" y2="325.71" stroke="#333" stroke-width="0.9"/>
<line x1="982.62" y1="325.71" x2="1121.94" y2="435.67" stroke="#333" stroke-width="0.9"/>
<polygon points="982.97,329.92 986.47,332.7 986.49,331.5 982.99,328.73" fill="#c6c6c6" stroke="#c6c6c6" stroke-width="0.4" stroke-linejoin="round"/>
<polygon points="986.47,332.7 995.18,331.66 995.2,330.47 986.49,331.5" fill="#7d7e7e" stroke="#7d7e7e" stroke-width="0.4" stroke-linejoin="round"/>
<polygon points="982.99,328.73 991.67,327.71 995.2,330.47 986.49,331.5" fill="#959595" stroke="#959595" stroke-width="0.4" stroke-linejoin="round"/>
<line x1="988.89" y1="328.3" x2="989.29" y2="330.9" stroke="#aaa" stroke-width="1.8"/>
<polygon points="871.57,343.11 874.54,346.03 874.54,344.83 871.56,341.91" fill="#c6c6c6" stroke="#c6c6c6" stroke-width="0.4" stroke-linejoin="round"/>
<polygon points="874.54,346.03 883.71,344.94 883.71,343.74 874.54,344.83" fill="#7d7e7e" stroke="#7d7e7e" stroke-width="0.4" stroke-linejoin="round"/>
<polygon points="871.56,341.91 880.69,340.84 883.71,343.74 874.54,344.83" fill="#959595" stroke="#959595" stroke-width="0.4" stroke-linejoin="round"/>
<line x1="877.43" y1="341.53" x2="877.83" y2="344.13" stroke="#aaa" stroke-width="1.8"/>
<polygon points="754.28,356.99 756.68,360.07 756.65,358.87 754.26,355.8" fill="#c6c6c6" stroke="#c6c6c6" stroke-width="0.4" stroke-linejoin="round"/>
<polygon points="756.68,360.07 766.34,358.92 766.31,357.72 756.65,358.87" fill="#7d7e7e" stroke="#7d7e7e" stroke-width="0.4" stroke-linejoin="round"/>
<polygon points="754.26,355.8 763.87,354.66 766.31,357.72 756.65,358.87" fill="#959595" stroke="#959595" stroke-width="0.4" stroke-linejoin="round"/>
<line x1="760.07" y1="355.46" x2="760.47" y2="358.06" stroke="#aaa" stroke-width="1.8"/>
<polygon points="996.1,340.37 999.74,343.26 999.77,342.06 996.13,339.17" fill="#c6c6c6" stroke="#c6c6c6" stroke-width="0.4" stroke-linejoin="round"/>
<polygon points="999.74,343.26 1008.6,342.18 1008.63,340.98 999.77,342.06" fill="#7d7e7e" stroke="#7d7e7e" stroke-width="0.4" stroke-linejoin="round"/>
<polygon points="996.13,339.17 1004.95,338.11 1008.63,340.98 999.77,342.06" fill="#959595" stroke="#959595" stroke-width="0.4" stroke-linejoin="round"/>
<line x1="1002.17" y1="338.78" x2="1002.57" y2="341.38" stroke="#aaa" stroke-width="1.8"/>
<polygon points="882.75,354.1 885.85,357.14 885.85,355.94 882.75,352.9" fill="#c6c6c6" stroke="#c6c6c6" stroke-width="0.4" stroke-linejoin="round"/>
<polygon points="885.85,357.14 895.18,356.01 895.18,354.81 885.85,355.94" fill="#7d7e7e" stroke="#7d7e7e" stroke-width="0.4" stroke-linejoin="round"/>
<polygon points="882.75,352.9 892.04,351.78 895.18,354.81 885.85,355.94" fill="#959595" stroke="#959595" stroke-width="0.4" stroke-linejoin="round"/>
<line x1="888.76" y1="352.55" x2="889.16" y2="355.15" stroke="#aaa" stroke-width="1.8"/>
<polygon points="760.85,368.46 763.92,372.42 763.33,345.42 760.25,341.63" fill="#c6c6c6" stroke="#c6c6c6" stroke-width="0.4" stroke-linejoin="round"/>
<polygon points="763.92,372.42 778.08,370.69 777.56,343.77 763.33,345.42" fill="#7d7e7e" stroke="#7d7e7e" stroke-width="0.4" stroke-linejoin="round"/>
<polygon points="760.25,341.63 774.4,340 777.56,343.77 763.33,345.42" fill="#b2b2b2" stroke="#b2b2b2" stroke-width="0.4" stroke-linejoin="round"/>
<line x1="768.69" y1="341.39" x2="769.09" y2="343.99" stroke="#aaa" stroke-width="1.8"/>
<polygon points="1009.77,351.24 1013.56,354.25 1013.59,353.05 1009.8,350.05" fill="#c6c6c6" stroke="#c6c6c6" stroke-width="0.4" stroke-linejoin="round"/>
<polygon points="1013.56,354.25 1022.57,353.13 1022.6,351.93 1013.59,353.05" fill="#7d7e7e" stroke="#7d7e7e" stroke-width="0.4" stroke-linejoin="round"/>
<polygon points="1009.8,350.05 1018.77,348.93 1022.6,351.93 1013.59,353.05" fill="#959595" stroke="#959595" stroke-width="0.4" stroke-linejoin="round"/>
<line x1="1015.99" y1="349.69" x2="1016.39" y2="352.29" stroke="#aaa" stroke-width="1.8"/>
<polygon points="893.94,365.19 897.92,369.11 897.93,366.11 893.95,362.21" fill="#c6c6c6" stroke="#c6c6c6" stroke-width="0.4" stroke-linejoin="round"/>
<polygon points="897.92,369.11 907.61,367.9 907.63,364.9 897.93,366.11" fill="#7d7e7e" stroke="#7d7e7e" stroke-width="0.4" stroke-linejoin="round"/>
<polygon points="893.95,362.21 903.58,361.02 907.63,364.9 897.93,366.11" fill="#b2b2b2" stroke="#b2b2b2" stroke-width="0.4" stroke-linejoin="round"/>
<line x1="900.57" y1="362.25" x2="900.97" y2="364.85" stroke="#aaa" stroke-width="1.8"/>
<polygon points="770.19,380.53 773.39,384.67 770.52,241.27 767.26,238.08" fill="#c6c6c6" stroke="#c6c6c6" stroke-width="0.4" stroke-linejoin="round"/>
<polygon points="773.39,384.67 787.83,382.86 785.36,239.88 770.52,241.27" fill="#7d7e7e" stroke="#7d7e7e" stroke-width="0.4" stroke-linejoin="round"/>
<polygon points="767.26,238.08 782,236.71 785.36,239.88 770.52,241.27" fill="#b2b2b2" stroke="#b2b2b2" stroke-width="0.4" stroke-linejoin="round"/>
<line x1="776.29" y1="238.98" x2="776.05" y2="225.98" stroke="#b8b8b8" stroke-width="0.8"/>
<line x1="776.35" y1="226.28" x2="774.85" y2="225.18" stroke="#b8b8b8" stroke-width="0.9"/>
<polygon points="1023.47,362.21 1028.34,366.08 1028.45,362.08 1023.58,358.24" fill="#c6c6c6" stroke="#c6c6c6" stroke-width="0.4" stroke-linejoin="round"/>
<polygon points="1028.34,366.08 1037.69,364.89 1037.81,360.89 1028.45,362.08" fill="#7d7e7e" stroke="#7d7e7e" stroke-width="0.4" stroke-linejoin="round"/>
<polygon points="1023.58,358.24 1032.88,357.06 1037.81,360.89 1028.45,362.08" fill="#b2b2b2" stroke="#b2b2b2" stroke-width="0.4" stroke-linejoin="round"/>
<line x1="1030.47" y1="358.26" x2="1030.87" y2="360.86" stroke="#aaa" stroke-width="1.8"/>
<polygon points="906.07,377.12 910.23,381.21 910.29,371.21 906.12,367.18" fill="#c6c6c6" stroke="#c6c6c6" stroke-width="0.4" stroke-linejoin="round"/>
<polygon points="910.23,381.21 920.1,379.94 920.18,369.96 910.29,371.21" fill="#7d7e7e" stroke="#7d7e7e" stroke-width="0.4" stroke-linejoin="round"/>
<polygon points="906.12,367.18 915.95,365.96 920.18,369.96 910.29,371.21" fill="#b2b2b2" stroke="#b2b2b2" stroke-width="0.4" stroke-linejoin="round"/>
<line x1="912.93" y1="367.27" x2="913.33" y2="369.87" stroke="#aaa" stroke-width="1.8"/>
<polygon points="779.94,393.14 783.29,397.46 782.69,364.46 779.33,360.35" fill="#c6c6c6" stroke="#c6c6c6" stroke-width="0.4" stroke-linejoin="round"/>
<polygon points="783.29,397.46 798.01,395.57 797.5,362.67 782.69,364.46" fill="#7d7e7e" stroke="#7d7e7e" stroke-width="0.4" stroke-linejoin="round"/>
<polygon points="779.33,360.35 794.05,358.59 797.5,362.67 782.69,364.46" fill="#b2b2b2" stroke="#b2b2b2" stroke-width="0.4" stroke-linejoin="round"/>
<line x1="788.4" y1="361.51" x2="788.36" y2="359.51" stroke="#b8b8b8" stroke-width="0.8"/>
<line x1="788.66" y1="359.81" x2="787.16" y2="358.71" stroke="#b8b8b8" stroke-width="0.9"/>
<polygon points="1038.86,374.37 1042.98,377.65 1043.02,376.45 1038.9,373.18" fill="#c6c6c6" stroke="#c6c6c6" stroke-width="0.4" stroke-linejoin="round"/>
<polygon points="1042.98,377.65 1052.32,376.42 1052.35,375.23 1043.02,376.45" fill="#7d7e7e" stroke="#7d7e7e" stroke-width="0.4" stroke-linejoin="round"/>
<polygon points="1038.9,373.18 1048.19,371.97 1052.35,375.23 1043.02,376.45" fill="#959595" stroke="#959595" stroke-width="0.4" stroke-linejoin="round"/>
<line x1="1045.41" y1="372.9" x2="1045.81" y2="375.5" stroke="#aaa" stroke-width="1.8"/>
<polygon points="918.74,389.57 923.08,393.84 923.46,349.34 919.07,345.36" fill="#c6c6c6" stroke="#c6c6c6" stroke-width="0.4" stroke-linejoin="round"/>
<polygon points="923.08,393.84 933.14,392.52 933.6,348.11 923.46,349.34" fill="#7d7e7e" stroke="#7d7e7e" stroke-width="0.4" stroke-linejoin="round"/>
<polygon points="919.07,345.36 929.15,344.15 933.6,348.11 923.46,349.34" fill="#b2b2b2" stroke="#b2b2b2" stroke-width="0.4" stroke-linejoin="round"/>
<line x1="926.12" y1="345.43" x2="926.52" y2="348.03" stroke="#aaa" stroke-width="1.8"/>
<polygon points="790.13,406.31 793.63,410.83 793.12,379.13 789.6,374.83" fill="#c6c6c6" stroke="#c6c6c6" stroke-width="0.4" stroke-linejoin="round"/>
<polygon points="793.63,410.83 808.65,408.86 808.23,377.25 793.12,379.13" fill="#7d7e7e" stroke="#7d7e7e" stroke-width="0.4" stroke-linejoin="round"/>
<polygon points="789.6,374.83 804.61,372.98 808.23,377.25 793.12,379.13" fill="#b2b2b2" stroke="#b2b2b2" stroke-width="0.4" stroke-linejoin="round"/>
<line x1="798.7" y1="374.74" x2="799.1" y2="377.34" stroke="#aaa" stroke-width="1.8"/>
<polygon points="1054.36,386.7 1058.66,390.12 1058.7,388.92 1054.4,385.51" fill="#c6c6c6" stroke="#c6c6c6" stroke-width="0.4" stroke-linejoin="round"/>
<polygon points="1058.66,390.12 1068.16,388.84 1068.21,387.64 1058.7,388.92" fill="#7d7e7e" stroke="#7d7e7e" stroke-width="0.4" stroke-linejoin="round"/>
<polygon points="1054.4,385.51 1063.86,384.24 1068.21,387.64 1058.7,388.92" fill="#959595" stroke="#959595" stroke-width="0.4" stroke-linejoin="round"/>
<line x1="1061.09" y1="385.27" x2="1061.49" y2="387.87" stroke="#aaa" stroke-width="1.8"/>
<polygon points="931.98,402.58 936.52,407.04 939.66,119.04 934.85,116.6" fill="#c6c6c6" stroke="#c6c6c6" stroke-width="0.4" stroke-linejoin="round"/>
<polygon points="936.52,407.04 946.77,405.66 950.46,118.3 939.66,119.04" fill="#7d7e7e" stroke="#7d7e7e" stroke-width="0.4" stroke-linejoin="round"/>
<polygon points="934.85,116.6 945.58,115.87 950.46,118.3 939.66,119.04" fill="#b2b2b2" stroke="#b2b2b2" stroke-width="0.4" stroke-linejoin="round"/>
<line x1="942.63" y1="117.45" x2="943.41" y2="49.45" stroke="#b8b8b8" stroke-width="0.8"/>
<line x1="943.71" y1="49.75" x2="942.21" y2="48.65" stroke="#b8b8b8" stroke-width="0.9"/>
<polygon points="800.8,420.1 804.46,424.83 802.88,314.23 799.16,310.27" fill="#c6c6c6" stroke="#c6c6c6" stroke-width="0.4" stroke-linejoin="round"/>
<polygon points="804.46,424.83 819.79,422.76 818.55,312.5 802.88,314.23" fill="#7d7e7e" stroke="#7d7e7e" stroke-width="0.4" stroke-linejoin="round"/>
<polygon points="799.16,310.27 814.71,308.57 818.55,312.5 802.88,314.23" fill="#b2b2b2" stroke="#b2b2b2" stroke-width="0.4" stroke-linejoin="round"/>
<line x1="808.83" y1="311.38" x2="808.01" y2="248.68" stroke="#b8b8b8" stroke-width="0.8"/>
<line x1="808.31" y1="248.98" x2="806.81" y2="247.88" stroke="#b8b8b8" stroke-width="0.9"/>
<polygon points="1070.55,399.57 1075.04,403.15 1075.09,401.95 1070.59,398.38" fill="#c6c6c6" stroke="#c6c6c6" stroke-width="0.4" stroke-linejoin="round"/>
<polygon points="1075.04,403.15 1084.72,401.81 1084.77,400.61 1075.09,401.95" fill="#7d7e7e" stroke="#7d7e7e" stroke-width="0.4" stroke-linejoin="round"/>
<polygon points="1070.59,398.38 1080.22,397.06 1084.77,400.61 1075.09,401.95" fill="#959595" stroke="#959595" stroke-width="0.4" stroke-linejoin="round"/>
<line x1="1077.47" y1="398.19" x2="1077.87" y2="400.79" stroke="#aaa" stroke-width="1.8"/>
<polygon points="945.82,416.18 950.57,420.85 951.23,372.85 946.43,368.51" fill="#c6c6c6" stroke="#c6c6c6" stroke-width="0.4" stroke-linejoin="round"/>
<polygon points="950.57,420.85 961.03,419.41 961.77,371.51 951.23,372.85" fill="#7d7e7e" stroke="#7d7e7e" stroke-width="0.4" stroke-linejoin="round"/>
<polygon points="946.43,368.51 956.9,367.19 961.77,371.51 951.23,372.85" fill="#b2b2b2" stroke="#b2b2b2" stroke-width="0.4" stroke-linejoin="round"/>
<line x1="953.88" y1="368.71" x2="954.28" y2="371.31" stroke="#aaa" stroke-width="1.8"/>
<polygon points="811.96,434.53 815.8,439.49 815.54,418.49 811.69,413.68" fill="#c6c6c6" stroke="#c6c6c6" stroke-width="0.4" stroke-linejoin="round"/>
<polygon points="815.8,439.49 831.46,437.33 831.27,416.39 815.54,418.49" fill="#7d7e7e" stroke="#7d7e7e" stroke-width="0.4" stroke-linejoin="round"/>
<polygon points="811.69,413.68 827.31,411.61 831.27,416.39 815.54,418.49" fill="#b2b2b2" stroke="#b2b2b2" stroke-width="0.4" stroke-linejoin="round"/>
<line x1="821.46" y1="415.03" x2="821.28" y2="399.03" stroke="#b8b8b8" stroke-width="0.8"/>
<line x1="821.58" y1="399.33" x2="820.08" y2="398.23" stroke="#b8b8b8" stroke-width="0.9"/>
<polygon points="1087.47,413.03 1092.18,416.77 1092.23,415.58 1087.52,411.84" fill="#c6c6c6" stroke="#c6c6c6" stroke-width="0.4" stroke-linejoin="round"/>
<polygon points="1092.18,416.77 1102.04,415.37 1102.09,414.18 1092.23,415.58" fill="#7d7e7e" stroke="#7d7e7e" stroke-width="0.4" stroke-linejoin="round"/>
<polygon points="1087.52,411.84 1097.33,410.46 1102.09,414.18 1092.23,415.58" fill="#959595" stroke="#959595" stroke-width="0.4" stroke-linejoin="round"/>
<line x1="1094.59" y1="411.71" x2="1094.99" y2="414.31" stroke="#aaa" stroke-width="1.8"/>
<polygon points="960.31,430.43 965.29,435.32 965.46,425.02 960.47,420.2" fill="#c6c6c6" stroke="#c6c6c6" stroke-width="0.4" stroke-linejoin="round"/>
<polygon points="965.29,435.32 975.96,433.81 976.15,423.53 965.46,425.02" fill="#7d7e7e" stroke="#7d7e7e" stroke-width="0.4" stroke-linejoin="round"/>
<polygon points="960.47,420.2 971.09,418.73 976.15,423.53 965.46,425.02" fill="#b2b2b2" stroke="#b2b2b2" stroke-width="0.4" stroke-linejoin="round"/>
<line x1="968.09" y1="420.56" x2="968.49" y2="423.16" stroke="#aaa" stroke-width="1.8"/>
<polygon points="1105.19,427.12 1110.12,431.04 1110.17,429.84 1105.24,425.93" fill="#c6c6c6" stroke="#c6c6c6" stroke-width="0.4" stroke-linejoin="round"/>
<polygon points="1110.12,431.04 1120.16,429.58 1120.22,428.38 1110.17,429.84" fill="#7d7e7e" stroke="#7d7e7e" stroke-width="0.4" stroke-linejoin="round"/>
<polygon points="1105.24,425.93 1115.24,424.49 1120.22,428.38 1110.17,429.84" fill="#959595" stroke="#959595" stroke-width="0.4" stroke-linejoin="round"/>
<line x1="1112.52" y1="425.85" x2="1112.92" y2="428.45" stroke="#aaa" stroke-width="1.8"/>
<polygon points="976.09,445.83 980.33,449.99 980.35,448.79 976.12,444.63" fill="#c6c6c6" stroke="#c6c6c6" stroke-width="0.4" stroke-linejoin="round"/>
<polygon points="980.33,449.99 991,448.43 991.03,447.23 980.35,448.79" fill="#7d7e7e" stroke="#7d7e7e" stroke-width="0.4" stroke-linejoin="round"/>
<polygon points="976.12,444.63 986.74,443.1 991.03,447.23 980.35,448.79" fill="#959595" stroke="#959595" stroke-width="0.4" stroke-linejoin="round"/>
<line x1="983.36" y1="444.63" x2="983.76" y2="447.23" stroke="#aaa" stroke-width="1.8"/>
<polyline points="684.71,49.46 695.42,359.41 779.96,486.11 1121.94,435.67" fill="none" stroke="#000" stroke-width="1.6" stroke-linejoin="miter"/>
<line x1="695.42" y1="359.41" x2="689.17" y2="360.15" stroke="#000" stroke-width="1.2"/>
<text transform="translate(683.67 365.75) rotate(-2.4)" font-family="'Liberation Serif',serif" font-size="13.9" font-weight="normal" font-style="normal" text-anchor="end">0</text>
<line x1="694.59" y1="335.35" x2="688.33" y2="336.05" stroke="#000" stroke-width="1.2"/>
<text transform="translate(682.83 341.65) rotate(-2.4)" font-family="'Liberation Serif',serif" font-size="13.9" font-weight="normal" font-style="normal" text-anchor="end">20000</text>
<line x1="693.75" y1="311.06" x2="687.49" y2="311.73" stroke="#000" stroke-width="1.2"/>
<text transform="translate(681.99 317.33) rotate(-2.4)" font-family="'Liberation Serif',serif" font-size="13.9" font-weight="normal" font-style="normal" text-anchor="end">40000</text>
<line x1="692.9" y1="286.55" x2="686.64" y2="287.19" stroke="#000" stroke-width="1.2"/>
<text transform="translate(681.14 292.79) rotate(-2.4)" font-family="'Liberation Serif',serif" font-size="13.9" font-weight="normal" font-style="normal" text-anchor="end">60000</text>
<line x1="692.05" y1="261.81" x2="685.78" y2="262.42" stroke="#000" stroke-width="1.2"/>
<text transform="translate(680.28 268.02) rotate(-2.4)" font-family="'Liberation Serif',serif" font-size="13.9" font-weight="normal" font-style="normal" text-anchor="end">80000</text>
<line x1="691.19" y1="236.85" x2="684.91" y2="237.42" stroke="#000" stroke-width="1.2"/>
<text transform="translate(679.41 243.02) rotate(-2.4)" font-family="'Liberation Serif',serif" font-size="13.9" font-weight="normal" font-style="normal" text-anchor="end">100000</text>
<line x1="690.31" y1="211.66" x2="684.04" y2="212.19" stroke="#000" stroke-width="1.2"/>
<text transform="translate(678.54 217.79) rotate(-2.4)" font-family="'Liberation Serif',serif" font-size="13.9" font-weight="normal" font-style="normal" text-anchor="end">120000</text>
<line x1="689.44" y1="186.23" x2="683.16" y2="186.73" stroke="#000" stroke-width="1.2"/>
<text transform="translate(677.66 192.33) rotate(-2.4)" font-family="'Liberation Serif',serif" font-size="13.9" font-weight="normal" font-style="normal" text-anchor="end">140000</text>
<line x1="688.55" y1="160.56" x2="682.27" y2="161.03" stroke="#000" stroke-width="1.2"/>
<text transform="translate(676.77 166.63) rotate(-2.4)" font-family="'Liberation Serif',serif" font-size="13.9" font-weight="normal" font-style="normal" text-anchor="end">160000</text>
<line x1="687.65" y1="134.65" x2="681.37" y2="135.08" stroke="#000" stroke-width="1.2"/>
<text transform="translate(675.87 140.68) rotate(-2.4)" font-family="'Liberation Serif',serif" font-size="13.9" font-weight="normal" font-style="normal" text-anchor="end">180000</text>
<line x1="686.75" y1="108.5" x2="680.46" y2="108.9" stroke="#000" stroke-width="1.2"/>
<text transform="translate(674.96 114.5) rotate(-2.4)" font-family="'Liberation Serif',serif" font-size="13.9" font-weight="normal" font-style="normal" text-anchor="end">200000</text>
<line x1="685.67" y1="77.2" x2="679.38" y2="77.55" stroke="#000" stroke-width="1.2"/>
<text transform="translate(673.88 83.15) rotate(-2.4)" font-family="'Liberation Serif',serif" font-size="13.9" font-weight="normal" font-style="normal" text-anchor="end">300000</text>
<line x1="684.71" y1="49.46" x2="678.42" y2="49.78" stroke="#000" stroke-width="1.2"/>
<text transform="translate(672.92 55.38) rotate(-2.4)" font-family="'Liberation Serif',serif" font-size="13.9" font-weight="normal" font-style="normal" text-anchor="end">320000</text>
<line x1="685.91" y1="83.4" x2="685.61" y2="76.6" stroke="#fff" stroke-width="3"/>
<line x1="679.46" y1="80.4" x2="692.06" y2="73.4" stroke="#000" stroke-width="1.2"/>
<line x1="679.46" y1="86.6" x2="692.06" y2="79.6" stroke="#000" stroke-width="1.2"/>
<line x1="699.28" y1="365.2" x2="692.83" y2="365.96" stroke="#000" stroke-width="1.3"/>
<text transform="matrix(1.3408 -0.1598 0.2679 0.4153 689.18 368.68)" font-family="'Liberation Serif',serif" font-size="10" font-weight="bold" font-style="normal" text-anchor="end" stroke="#000" stroke-width="0.3">Dec-18</text>
<line x1="707.24" y1="377.13" x2="700.79" y2="377.91" stroke="#000" stroke-width="1.3"/>
<text transform="matrix(1.3674 -0.1669 0.2796 0.4334 696.98 380.76)" font-family="'Liberation Serif',serif" font-size="10" font-weight="bold" font-style="normal" text-anchor="end" stroke="#000" stroke-width="0.3">Feb-19</text>
<line x1="715.56" y1="389.59" x2="709.11" y2="390.39" stroke="#000" stroke-width="1.3"/>
<text transform="matrix(1.3952 -0.1744 0.2920 0.4528 705.12 393.39)" font-family="'Liberation Serif',serif" font-size="10" font-weight="bold" font-style="normal" text-anchor="end" stroke="#000" stroke-width="0.3">Apr-19</text>
<line x1="724.24" y1="402.6" x2="717.79" y2="403.43" stroke="#000" stroke-width="1.3"/>
<text transform="matrix(1.4241 -0.1824 0.3054 0.4734 713.62 406.58)" font-family="'Liberation Serif',serif" font-size="10" font-weight="bold" font-style="normal" text-anchor="end" stroke="#000" stroke-width="0.3">Jun-19</text>
<line x1="733.32" y1="416.22" x2="726.88" y2="417.06" stroke="#000" stroke-width="1.3"/>
<text transform="matrix(1.4541 -0.1910 0.3197 0.4956 722.53 420.37)" font-family="'Liberation Serif',serif" font-size="10" font-weight="bold" font-style="normal" text-anchor="end" stroke="#000" stroke-width="0.3">Jul-19</text>
<line x1="742.84" y1="430.47" x2="736.39" y2="431.34" stroke="#000" stroke-width="1.3"/>
<text transform="matrix(1.4855 -0.2002 0.3350 0.5193 731.85 434.83)" font-family="'Liberation Serif',serif" font-size="10" font-weight="bold" font-style="normal" text-anchor="end" stroke="#000" stroke-width="0.3">Aug-19</text>
<line x1="752.8" y1="445.41" x2="746.36" y2="446.3" stroke="#000" stroke-width="1.3"/>
<text transform="matrix(1.5183 -0.2100 0.3514 0.5448 741.62 449.98)" font-family="'Liberation Serif',serif" font-size="10" font-weight="bold" font-style="normal" text-anchor="end" stroke="#000" stroke-width="0.3">Sep-19</text>
<line x1="763.26" y1="461.09" x2="756.83" y2="462" stroke="#000" stroke-width="1.3"/>
<text transform="matrix(1.5525 -0.2207 0.3690 0.5721 751.88 465.88)" font-family="'Liberation Serif',serif" font-size="10" font-weight="bold" font-style="normal" text-anchor="end" stroke="#000" stroke-width="0.3">Oct-19</text>
<line x1="774.25" y1="477.56" x2="767.82" y2="478.49" stroke="#000" stroke-width="1.3"/>
<text transform="matrix(1.5882 -0.2321 0.3881 0.6016 762.66 482.60)" font-family="'Liberation Serif',serif" font-size="10" font-weight="bold" font-style="normal" text-anchor="end" stroke="#000" stroke-width="0.3">Dec-19</text>
<line x1="852.74" y1="475.37" x2="854.91" y2="478.12" stroke="#000" stroke-width="1.3"/>
<line x1="991.53" y1="454.9" x2="994.03" y2="457.35" stroke="#000" stroke-width="1.3"/>
<line x1="1121.94" y1="435.67" x2="1124.69" y2="437.84" stroke="#000" stroke-width="1.3"/>
<text transform="translate(707 98.5) rotate(-3)" font-family="'Liberation Serif',serif" font-size="24.2" font-weight="normal" font-style="italic" text-anchor="start">Ulva lactuca</text>
<text transform="translate(630.5 213) rotate(-92.1)" font-family="'Liberation Serif',serif" font-size="17" font-weight="bold" font-style="normal" text-anchor="middle">Abundance (cells 100 cm<tspan dy="-6" font-size="11">-2</tspan><tspan dy="6">)</tspan></text>
<text transform="translate(833.2 452) rotate(0)" font-family="'Liberation Serif',serif" font-size="11.3" font-weight="normal" font-style="normal" text-anchor="middle">M</text>
<text transform="translate(846.4 468.4) rotate(0)" font-family="'Liberation Serif',serif" font-size="11.3" font-weight="normal" font-style="normal" text-anchor="middle">M</text>
<text transform="matrix(1.3114 -0.1972 0.5864 0.7514 857.71 487.62)" font-family="'Liberation Serif',serif" font-size="10" font-weight="bold" font-style="normal" text-anchor="start" stroke="#000" stroke-width="0.3">A</text>
<text transform="matrix(1.2311 -0.1852 0.7176 0.7058 996.83 466.85)" font-family="'Liberation Serif',serif" font-size="10" font-weight="bold" font-style="normal" text-anchor="start" stroke="#000" stroke-width="0.3">D</text>
<text transform="matrix(1.1581 -0.1742 0.8321 0.6643 1127.49 447.34)" font-family="'Liberation Serif',serif" font-size="10" font-weight="bold" font-style="normal" text-anchor="start" stroke="#000" stroke-width="0.3">B</text>
<text transform="matrix(1.3817 -0.2131 0.6393 0.6713 973.50 486.80)" font-family="'Liberation Serif',serif" font-size="13" font-weight="bold" font-style="normal" text-anchor="middle" stroke="#000" stroke-width="0.3">Station</text>
<text transform="matrix(0.2971 0.5593 -1.4924 0.1955 656.80 427.50)" font-family="'Liberation Serif',serif" font-size="12.5" font-weight="bold" font-style="normal" text-anchor="middle" stroke="#000" stroke-width="0.3">Month</text>
</g>
<g clip-path="url(#cc)">
<line x1="98.47" y1="920.5" x2="393.09" y2="885.8" stroke="#9c9c9c" stroke-width="0.8"/>
<line x1="393.09" y1="885.8" x2="535.94" y2="998.96" stroke="#8a8a8a" stroke-width="0.8"/>
<line x1="96.38" y1="860.9" x2="394.06" y2="829.58" stroke="#9c9c9c" stroke-width="0.8"/>
<line x1="394.06" y1="829.58" x2="538.84" y2="932.01" stroke="#8a8a8a" stroke-width="0.8"/>
<line x1="94.21" y1="798.7" x2="395.07" y2="770.99" stroke="#9c9c9c" stroke-width="0.8"/>
<line x1="395.07" y1="770.99" x2="541.89" y2="861.93" stroke="#8a8a8a" stroke-width="0.8"/>
<line x1="91.99" y1="735.2" x2="396.11" y2="711.25" stroke="#9c9c9c" stroke-width="0.8"/>
<line x1="396.11" y1="711.25" x2="545.01" y2="790.16" stroke="#8a8a8a" stroke-width="0.8"/>
<line x1="89.69" y1="669.6" x2="397.18" y2="649.62" stroke="#9c9c9c" stroke-width="0.8"/>
<line x1="397.18" y1="649.62" x2="548.24" y2="715.79" stroke="#8a8a8a" stroke-width="0.8"/>
<line x1="87.38" y1="603.5" x2="398.25" y2="587.62" stroke="#9c9c9c" stroke-width="0.8"/>
<line x1="398.25" y1="587.62" x2="551.5" y2="640.6" stroke="#8a8a8a" stroke-width="0.8"/>
<line x1="133.13" y1="917.16" x2="124.04" y2="601.36" stroke="#9c9c9c" stroke-width="0.8"/>
<line x1="200.91" y1="909.16" x2="195.7" y2="597.7" stroke="#9c9c9c" stroke-width="0.8"/>
<line x1="266.78" y1="901.4" x2="265.23" y2="594.15" stroke="#9c9c9c" stroke-width="0.8"/>
<line x1="330.8" y1="893.84" x2="332.72" y2="590.71" stroke="#9c9c9c" stroke-width="0.8"/>
<line x1="399.68" y1="891.74" x2="405.27" y2="589.79" stroke="#8a8a8a" stroke-width="0.8"/>
<line x1="413.3" y1="902.54" x2="419.75" y2="594.78" stroke="#8a8a8a" stroke-width="0.8"/>
<line x1="427.47" y1="913.78" x2="434.85" y2="600" stroke="#8a8a8a" stroke-width="0.8"/>
<line x1="442.23" y1="925.49" x2="450.61" y2="605.44" stroke="#8a8a8a" stroke-width="0.8"/>
<line x1="457.63" y1="937.7" x2="467.09" y2="611.14" stroke="#8a8a8a" stroke-width="0.8"/>
<line x1="473.69" y1="950.45" x2="484.34" y2="617.09" stroke="#8a8a8a" stroke-width="0.8"/>
<line x1="490.48" y1="963.76" x2="502.4" y2="623.33" stroke="#8a8a8a" stroke-width="0.8"/>
<line x1="508.02" y1="977.68" x2="521.33" y2="629.87" stroke="#8a8a8a" stroke-width="0.8"/>
<line x1="526.39" y1="992.24" x2="541.2" y2="636.73" stroke="#8a8a8a" stroke-width="0.8"/>
<line x1="102.45" y1="927.19" x2="399.68" y2="891.74" stroke="#858585" stroke-width="0.8"/>
<line x1="110.62" y1="939.49" x2="413.3" y2="902.54" stroke="#858585" stroke-width="0.8"/>
<line x1="119.15" y1="952.32" x2="427.47" y2="913.78" stroke="#858585" stroke-width="0.8"/>
<line x1="128.06" y1="965.72" x2="442.23" y2="925.49" stroke="#858585" stroke-width="0.8"/>
<line x1="137.38" y1="979.74" x2="457.63" y2="937.7" stroke="#858585" stroke-width="0.8"/>
<line x1="147.14" y1="994.42" x2="473.69" y2="950.45" stroke="#858585" stroke-width="0.8"/>
<line x1="157.37" y1="1009.8" x2="490.48" y2="963.76" stroke="#858585" stroke-width="0.8"/>
<line x1="168.09" y1="1025.94" x2="508.02" y2="977.68" stroke="#858585" stroke-width="0.8"/>
<line x1="179.36" y1="1042.89" x2="526.39" y2="992.24" stroke="#858585" stroke-width="0.8"/>
<line x1="133.13" y1="917.16" x2="226.96" y2="1045.51" stroke="#858585" stroke-width="0.8"/>
<line x1="200.91" y1="909.16" x2="308.26" y2="1033.48" stroke="#858585" stroke-width="0.8"/>
<line x1="266.78" y1="901.4" x2="386.76" y2="1021.86" stroke="#858585" stroke-width="0.8"/>
<line x1="330.8" y1="893.84" x2="462.59" y2="1010.64" stroke="#858585" stroke-width="0.8"/>
<line x1="87.37" y1="603.23" x2="398.25" y2="587.36" stroke="#333" stroke-width="0.9"/>
<line x1="398.25" y1="587.36" x2="551.52" y2="640.29" stroke="#333" stroke-width="0.9"/>
<line x1="393.07" y1="886.5" x2="398.25" y2="587.36" stroke="#333" stroke-width="0.9"/>
<line x1="535.9" y1="999.79" x2="551.52" y2="640.29" stroke="#333" stroke-width="0.9"/>
<line x1="98.49" y1="921.24" x2="393.07" y2="886.5" stroke="#333" stroke-width="0.9"/>
<line x1="393.07" y1="886.5" x2="535.9" y2="999.79" stroke="#333" stroke-width="0.9"/>
<polygon points="393.85,890.8 397.44,893.66 397.46,892.46 393.87,889.6" fill="#c6c6c6" stroke="#c6c6c6" stroke-width="0.4" stroke-linejoin="round"/>
<polygon points="397.44,893.66 405.53,892.69 405.56,891.49 397.46,892.46" fill="#7d7e7e" stroke="#7d7e7e" stroke-width="0.4" stroke-linejoin="round"/>
<polygon points="393.87,889.6 401.94,888.65 405.56,891.49 397.46,892.46" fill="#959595" stroke="#959595" stroke-width="0.4" stroke-linejoin="round"/>
<line x1="399.5" y1="889.25" x2="399.9" y2="891.85" stroke="#333" stroke-width="1.8"/>
<polygon points="331.08,898.26 334.38,901.21 334.39,900.01 331.09,897.07" fill="#c6c6c6" stroke="#c6c6c6" stroke-width="0.4" stroke-linejoin="round"/>
<polygon points="334.38,901.21 342.71,900.21 342.72,899.01 334.39,900.01" fill="#7d7e7e" stroke="#7d7e7e" stroke-width="0.4" stroke-linejoin="round"/>
<polygon points="331.09,897.07 339.38,896.08 342.72,899.01 334.39,900.01" fill="#959595" stroke="#959595" stroke-width="0.4" stroke-linejoin="round"/>
<line x1="336.69" y1="896.74" x2="337.09" y2="899.34" stroke="#333" stroke-width="1.8"/>
<polygon points="266.53,905.94 269.52,908.97 269.51,907.77 266.52,904.74" fill="#c6c6c6" stroke="#c6c6c6" stroke-width="0.4" stroke-linejoin="round"/>
<polygon points="269.52,908.97 278.09,907.94 278.08,906.74 269.51,907.77" fill="#7d7e7e" stroke="#7d7e7e" stroke-width="0.4" stroke-linejoin="round"/>
<polygon points="266.52,904.74 275.05,903.73 278.08,906.74 269.51,907.77" fill="#959595" stroke="#959595" stroke-width="0.4" stroke-linejoin="round"/>
<line x1="272.09" y1="904.44" x2="272.49" y2="907.04" stroke="#333" stroke-width="1.8"/>
<polygon points="199.34,913.64 202.44,917.28 202.13,898.28 199.01,894.75" fill="#c6c6c6" stroke="#c6c6c6" stroke-width="0.4" stroke-linejoin="round"/>
<polygon points="202.44,917.28 212.36,916.09 212.08,897.13 202.13,898.28" fill="#7d7e7e" stroke="#7d7e7e" stroke-width="0.4" stroke-linejoin="round"/>
<polygon points="199.01,894.75 208.91,893.62 212.08,897.13 202.13,898.28" fill="#b2b2b2" stroke="#b2b2b2" stroke-width="0.4" stroke-linejoin="round"/>
<line x1="205.33" y1="894.64" x2="205.73" y2="897.24" stroke="#333" stroke-width="1.8"/>
<polygon points="130.98,921.77 133.68,925.51 133.56,921.51 130.86,917.79" fill="#c6c6c6" stroke="#c6c6c6" stroke-width="0.4" stroke-linejoin="round"/>
<polygon points="133.68,925.51 143.89,924.29 143.78,920.3 133.56,921.51" fill="#7d7e7e" stroke="#7d7e7e" stroke-width="0.4" stroke-linejoin="round"/>
<polygon points="130.86,917.79 141.02,916.59 143.78,920.3 133.56,921.51" fill="#b2b2b2" stroke="#b2b2b2" stroke-width="0.4" stroke-linejoin="round"/>
<line x1="137.11" y1="917.74" x2="137.51" y2="920.34" stroke="#333" stroke-width="1.8"/>
<polygon points="407.32,901.56 411.05,904.54 411.08,903.34 407.35,900.36" fill="#c6c6c6" stroke="#c6c6c6" stroke-width="0.4" stroke-linejoin="round"/>
<polygon points="411.05,904.54 419.29,903.53 419.32,902.33 411.08,903.34" fill="#7d7e7e" stroke="#7d7e7e" stroke-width="0.4" stroke-linejoin="round"/>
<polygon points="407.35,900.36 415.55,899.37 419.32,902.33 411.08,903.34" fill="#959595" stroke="#959595" stroke-width="0.4" stroke-linejoin="round"/>
<line x1="413.12" y1="900.05" x2="413.52" y2="902.65" stroke="#333" stroke-width="1.8"/>
<polygon points="343.47,909.33 346.91,912.39 346.92,911.19 343.48,908.13" fill="#c6c6c6" stroke="#c6c6c6" stroke-width="0.4" stroke-linejoin="round"/>
<polygon points="346.91,912.39 355.38,911.35 355.39,910.16 346.92,911.19" fill="#7d7e7e" stroke="#7d7e7e" stroke-width="0.4" stroke-linejoin="round"/>
<polygon points="343.48,908.13 351.92,907.11 355.39,910.16 346.92,911.19" fill="#959595" stroke="#959595" stroke-width="0.4" stroke-linejoin="round"/>
<line x1="349.23" y1="907.84" x2="349.63" y2="910.44" stroke="#333" stroke-width="1.8"/>
<polygon points="277.77,917.32 280.88,920.48 280.88,919.28 277.76,916.13" fill="#c6c6c6" stroke="#c6c6c6" stroke-width="0.4" stroke-linejoin="round"/>
<polygon points="280.88,920.48 289.61,919.41 289.61,918.21 280.88,919.28" fill="#7d7e7e" stroke="#7d7e7e" stroke-width="0.4" stroke-linejoin="round"/>
<polygon points="277.76,916.13 286.45,915.07 289.61,918.21 280.88,919.28" fill="#959595" stroke="#959595" stroke-width="0.4" stroke-linejoin="round"/>
<line x1="283.47" y1="915.87" x2="283.87" y2="918.47" stroke="#333" stroke-width="1.8"/>
<polygon points="209.33,925.35 212.57,929.14 212.53,926.14 209.29,922.37" fill="#c6c6c6" stroke="#c6c6c6" stroke-width="0.4" stroke-linejoin="round"/>
<polygon points="212.57,929.14 222.68,927.9 222.64,924.91 212.53,926.14" fill="#7d7e7e" stroke="#7d7e7e" stroke-width="0.4" stroke-linejoin="round"/>
<polygon points="209.29,922.37 219.34,921.15 222.64,924.91 212.53,926.14" fill="#b2b2b2" stroke="#b2b2b2" stroke-width="0.4" stroke-linejoin="round"/>
<line x1="215.75" y1="922.34" x2="216.15" y2="924.94" stroke="#333" stroke-width="1.8"/>
<polygon points="139.67,933.82 142.49,937.73 137.98,772.03 135.11,769.15" fill="#c6c6c6" stroke="#c6c6c6" stroke-width="0.4" stroke-linejoin="round"/>
<polygon points="142.49,937.73 152.9,936.45 148.71,771.09 137.98,772.03" fill="#7d7e7e" stroke="#7d7e7e" stroke-width="0.4" stroke-linejoin="round"/>
<polygon points="135.11,769.15 145.77,768.23 148.71,771.09 137.98,772.03" fill="#b2b2b2" stroke="#b2b2b2" stroke-width="0.4" stroke-linejoin="round"/>
<line x1="141.89" y1="770.12" x2="141.82" y2="767.12" stroke="#111" stroke-width="1.0"/>
<line x1="142.12" y1="767.42" x2="140.62" y2="766.32" stroke="#111" stroke-width="0.9"/>
<polygon points="421.35,912.76 425.23,915.86 425.26,914.66 421.37,911.56" fill="#c6c6c6" stroke="#c6c6c6" stroke-width="0.4" stroke-linejoin="round"/>
<polygon points="425.23,915.86 433.61,914.81 433.64,913.61 425.26,914.66" fill="#7d7e7e" stroke="#7d7e7e" stroke-width="0.4" stroke-linejoin="round"/>
<polygon points="421.37,911.56 429.72,910.53 433.64,913.61 425.26,914.66" fill="#959595" stroke="#959595" stroke-width="0.4" stroke-linejoin="round"/>
<line x1="427.3" y1="911.29" x2="427.7" y2="913.89" stroke="#333" stroke-width="1.8"/>
<polygon points="356.38,920.85 359.96,924.05 359.97,922.85 356.39,919.66" fill="#c6c6c6" stroke="#c6c6c6" stroke-width="0.4" stroke-linejoin="round"/>
<polygon points="359.96,924.05 368.58,922.96 368.6,921.77 359.97,922.85" fill="#7d7e7e" stroke="#7d7e7e" stroke-width="0.4" stroke-linejoin="round"/>
<polygon points="356.39,919.66 364.98,918.59 368.6,921.77 359.97,922.85" fill="#959595" stroke="#959595" stroke-width="0.4" stroke-linejoin="round"/>
<line x1="362.28" y1="919.41" x2="362.68" y2="922.01" stroke="#333" stroke-width="1.8"/>
<polygon points="289.48,929.19 292.73,932.48 292.73,931.28 289.48,927.99" fill="#c6c6c6" stroke="#c6c6c6" stroke-width="0.4" stroke-linejoin="round"/>
<polygon points="292.73,932.48 301.62,931.36 301.62,930.16 292.73,931.28" fill="#7d7e7e" stroke="#7d7e7e" stroke-width="0.4" stroke-linejoin="round"/>
<polygon points="289.48,927.99 298.32,926.89 301.62,930.16 292.73,931.28" fill="#959595" stroke="#959595" stroke-width="0.4" stroke-linejoin="round"/>
<line x1="295.34" y1="927.78" x2="295.74" y2="930.38" stroke="#333" stroke-width="1.8"/>
<polygon points="219.76,937.56 223.14,941.52 223.07,936.52 219.69,932.59" fill="#c6c6c6" stroke="#c6c6c6" stroke-width="0.4" stroke-linejoin="round"/>
<polygon points="223.14,941.52 233.44,940.23 233.38,935.24 223.07,936.52" fill="#7d7e7e" stroke="#7d7e7e" stroke-width="0.4" stroke-linejoin="round"/>
<polygon points="219.69,932.59 229.94,931.33 233.38,935.24 223.07,936.52" fill="#b2b2b2" stroke="#b2b2b2" stroke-width="0.4" stroke-linejoin="round"/>
<line x1="226.32" y1="932.61" x2="226.72" y2="935.21" stroke="#333" stroke-width="1.8"/>
<polygon points="148.75,946.41 151.69,950.48 146.29,739.98 143.28,737.24" fill="#c6c6c6" stroke="#c6c6c6" stroke-width="0.4" stroke-linejoin="round"/>
<polygon points="151.69,950.48 162.31,949.15 157.32,739.09 146.29,739.98" fill="#7d7e7e" stroke="#7d7e7e" stroke-width="0.4" stroke-linejoin="round"/>
<polygon points="143.28,737.24 154.24,736.37 157.32,739.09 146.29,739.98" fill="#b2b2b2" stroke="#b2b2b2" stroke-width="0.4" stroke-linejoin="round"/>
<line x1="150.28" y1="738.17" x2="149.66" y2="713.17" stroke="#111" stroke-width="1.0"/>
<line x1="149.96" y1="713.47" x2="148.46" y2="712.37" stroke="#111" stroke-width="0.9"/>
<polygon points="435.96,924.42 440.01,927.66 440.04,926.46 435.99,923.23" fill="#c6c6c6" stroke="#c6c6c6" stroke-width="0.4" stroke-linejoin="round"/>
<polygon points="440.01,927.66 448.53,926.56 448.56,925.37 440.04,926.46" fill="#7d7e7e" stroke="#7d7e7e" stroke-width="0.4" stroke-linejoin="round"/>
<polygon points="435.99,923.23 444.47,922.15 448.56,925.37 440.04,926.46" fill="#959595" stroke="#959595" stroke-width="0.4" stroke-linejoin="round"/>
<line x1="442.06" y1="923" x2="442.46" y2="925.6" stroke="#333" stroke-width="1.8"/>
<polygon points="369.83,932.86 373.56,936.2 373.58,935 369.85,931.67" fill="#c6c6c6" stroke="#c6c6c6" stroke-width="0.4" stroke-linejoin="round"/>
<polygon points="373.56,936.2 382.34,935.07 382.36,933.87 373.58,935" fill="#7d7e7e" stroke="#7d7e7e" stroke-width="0.4" stroke-linejoin="round"/>
<polygon points="369.85,931.67 378.59,930.56 382.36,933.87 373.58,935" fill="#959595" stroke="#959595" stroke-width="0.4" stroke-linejoin="round"/>
<line x1="375.89" y1="931.47" x2="376.29" y2="934.07" stroke="#333" stroke-width="1.8"/>
<polygon points="301.7,941.56 305.09,944.99 305.09,943.79 301.7,940.37" fill="#c6c6c6" stroke="#c6c6c6" stroke-width="0.4" stroke-linejoin="round"/>
<polygon points="305.09,944.99 314.14,943.83 314.15,942.63 305.09,943.79" fill="#7d7e7e" stroke="#7d7e7e" stroke-width="0.4" stroke-linejoin="round"/>
<polygon points="301.7,940.37 310.71,939.22 314.15,942.63 305.09,943.79" fill="#959595" stroke="#959595" stroke-width="0.4" stroke-linejoin="round"/>
<line x1="307.71" y1="940.2" x2="308.11" y2="942.8" stroke="#333" stroke-width="1.8"/>
<polygon points="230.64,950.31 234.17,954.44 233.82,922.94 230.28,919" fill="#c6c6c6" stroke="#c6c6c6" stroke-width="0.4" stroke-linejoin="round"/>
<polygon points="234.17,954.44 244.67,953.09 244.38,921.65 233.82,922.94" fill="#7d7e7e" stroke="#7d7e7e" stroke-width="0.4" stroke-linejoin="round"/>
<polygon points="230.28,919 240.77,917.73 244.38,921.65 233.82,922.94" fill="#b2b2b2" stroke="#b2b2b2" stroke-width="0.4" stroke-linejoin="round"/>
<line x1="237.31" y1="920.32" x2="237.29" y2="918.32" stroke="#111" stroke-width="1.0"/>
<line x1="237.59" y1="918.62" x2="236.09" y2="917.52" stroke="#111" stroke-width="0.9"/>
<polygon points="158.22,959.54 161.3,963.8 160.12,914.8 157.03,910.85" fill="#c6c6c6" stroke="#c6c6c6" stroke-width="0.4" stroke-linejoin="round"/>
<polygon points="161.3,963.8 172.13,962.41 171.05,913.51 160.12,914.8" fill="#7d7e7e" stroke="#7d7e7e" stroke-width="0.4" stroke-linejoin="round"/>
<polygon points="157.03,910.85 167.89,909.58 171.05,913.51 160.12,914.8" fill="#b2b2b2" stroke="#b2b2b2" stroke-width="0.4" stroke-linejoin="round"/>
<line x1="164.03" y1="912.18" x2="163.98" y2="910.18" stroke="#111" stroke-width="1.0"/>
<line x1="164.28" y1="910.48" x2="162.78" y2="909.38" stroke="#111" stroke-width="0.9"/>
<polygon points="451.19,936.59 455.41,939.96 455.45,938.76 451.22,935.4" fill="#c6c6c6" stroke="#c6c6c6" stroke-width="0.4" stroke-linejoin="round"/>
<polygon points="455.41,939.96 464.09,938.82 464.13,937.62 455.45,938.76" fill="#7d7e7e" stroke="#7d7e7e" stroke-width="0.4" stroke-linejoin="round"/>
<polygon points="451.22,935.4 459.86,934.27 464.13,937.62 455.45,938.76" fill="#959595" stroke="#959595" stroke-width="0.4" stroke-linejoin="round"/>
<line x1="457.46" y1="935.21" x2="457.86" y2="937.81" stroke="#333" stroke-width="1.8"/>
<polygon points="383.86,945.4 387.76,948.88 387.78,947.68 383.88,944.2" fill="#c6c6c6" stroke="#c6c6c6" stroke-width="0.4" stroke-linejoin="round"/>
<polygon points="387.76,948.88 396.7,947.7 396.73,946.5 387.78,947.68" fill="#7d7e7e" stroke="#7d7e7e" stroke-width="0.4" stroke-linejoin="round"/>
<polygon points="383.88,944.2 392.79,943.04 396.73,946.5 387.78,947.68" fill="#959595" stroke="#959595" stroke-width="0.4" stroke-linejoin="round"/>
<line x1="390.09" y1="944.05" x2="390.49" y2="946.65" stroke="#333" stroke-width="1.8"/>
<polygon points="314.45,954.48 317.99,958.07 318,956.87 314.46,953.29" fill="#c6c6c6" stroke="#c6c6c6" stroke-width="0.4" stroke-linejoin="round"/>
<polygon points="317.99,958.07 327.22,956.85 327.23,955.65 318,956.87" fill="#7d7e7e" stroke="#7d7e7e" stroke-width="0.4" stroke-linejoin="round"/>
<polygon points="314.46,953.29 323.64,952.09 327.23,955.65 318,956.87" fill="#959595" stroke="#959595" stroke-width="0.4" stroke-linejoin="round"/>
<line x1="320.63" y1="953.17" x2="321.03" y2="955.77" stroke="#333" stroke-width="1.8"/>
<polygon points="242,963.62 245.69,967.93 245.47,943.53 241.77,939.37" fill="#c6c6c6" stroke="#c6c6c6" stroke-width="0.4" stroke-linejoin="round"/>
<polygon points="245.69,967.93 256.4,966.52 256.23,942.17 245.47,943.53" fill="#7d7e7e" stroke="#7d7e7e" stroke-width="0.4" stroke-linejoin="round"/>
<polygon points="241.77,939.37 252.46,938.03 256.23,942.17 245.47,943.53" fill="#b2b2b2" stroke="#b2b2b2" stroke-width="0.4" stroke-linejoin="round"/>
<line x1="248.99" y1="940.77" x2="248.97" y2="938.77" stroke="#111" stroke-width="1.0"/>
<line x1="249.27" y1="939.07" x2="247.77" y2="937.97" stroke="#111" stroke-width="0.9"/>
<polygon points="168.13,973.28 171.34,977.73 167.89,822.13 164.61,818.7" fill="#c6c6c6" stroke="#c6c6c6" stroke-width="0.4" stroke-linejoin="round"/>
<polygon points="171.34,977.73 182.4,976.28 179.26,821.01 167.89,822.13" fill="#7d7e7e" stroke="#7d7e7e" stroke-width="0.4" stroke-linejoin="round"/>
<polygon points="164.61,818.7 175.91,817.59 179.26,821.01 167.89,822.13" fill="#b2b2b2" stroke="#b2b2b2" stroke-width="0.4" stroke-linejoin="round"/>
<line x1="171.92" y1="819.85" x2="169.43" y2="704.35" stroke="#111" stroke-width="1.0"/>
<line x1="169.73" y1="704.65" x2="168.23" y2="703.55" stroke="#111" stroke-width="0.9"/>
<polygon points="467.08,949.28 471.49,952.81 471.53,951.61 467.12,948.09" fill="#c6c6c6" stroke="#c6c6c6" stroke-width="0.4" stroke-linejoin="round"/>
<polygon points="471.49,952.81 480.33,951.61 480.37,950.41 471.53,951.61" fill="#7d7e7e" stroke="#7d7e7e" stroke-width="0.4" stroke-linejoin="round"/>
<polygon points="467.12,948.09 475.91,946.91 480.37,950.41 471.53,951.61" fill="#959595" stroke="#959595" stroke-width="0.4" stroke-linejoin="round"/>
<line x1="473.53" y1="947.95" x2="473.93" y2="950.55" stroke="#333" stroke-width="1.8"/>
<polygon points="398.52,958.48 402.59,962.12 402.61,960.92 398.54,957.29" fill="#c6c6c6" stroke="#c6c6c6" stroke-width="0.4" stroke-linejoin="round"/>
<polygon points="402.59,962.12 411.7,960.89 411.73,959.69 402.61,960.92" fill="#7d7e7e" stroke="#7d7e7e" stroke-width="0.4" stroke-linejoin="round"/>
<polygon points="398.54,957.29 407.61,956.08 411.73,959.69 402.61,960.92" fill="#959595" stroke="#959595" stroke-width="0.4" stroke-linejoin="round"/>
<line x1="404.92" y1="957.19" x2="405.32" y2="959.79" stroke="#333" stroke-width="1.8"/>
<polygon points="327.78,967.98 331.48,971.73 331.49,970.53 327.79,966.78" fill="#c6c6c6" stroke="#c6c6c6" stroke-width="0.4" stroke-linejoin="round"/>
<polygon points="331.48,971.73 340.89,970.46 340.9,969.26 331.49,970.53" fill="#7d7e7e" stroke="#7d7e7e" stroke-width="0.4" stroke-linejoin="round"/>
<polygon points="327.79,966.78 337.15,965.53 340.9,969.26 331.49,970.53" fill="#959595" stroke="#959595" stroke-width="0.4" stroke-linejoin="round"/>
<line x1="334.13" y1="966.72" x2="334.53" y2="969.32" stroke="#333" stroke-width="1.8"/>
<polygon points="253.89,977.54 257.75,982.05 257.65,967.35 253.78,962.93" fill="#c6c6c6" stroke="#c6c6c6" stroke-width="0.4" stroke-linejoin="round"/>
<polygon points="257.75,982.05 268.67,980.58 268.6,965.91 257.65,967.35" fill="#7d7e7e" stroke="#7d7e7e" stroke-width="0.4" stroke-linejoin="round"/>
<polygon points="253.78,962.93 264.67,961.51 268.6,965.91 257.65,967.35" fill="#b2b2b2" stroke="#b2b2b2" stroke-width="0.4" stroke-linejoin="round"/>
<line x1="261.17" y1="964.42" x2="261.12" y2="955.42" stroke="#111" stroke-width="1.0"/>
<line x1="261.42" y1="955.72" x2="259.92" y2="954.62" stroke="#111" stroke-width="0.9"/>
<polygon points="178.5,987.65 181.86,992.31 180.75,937.71 177.36,933.41" fill="#c6c6c6" stroke="#c6c6c6" stroke-width="0.4" stroke-linejoin="round"/>
<polygon points="181.86,992.31 193.15,990.79 192.15,936.31 180.75,937.71" fill="#7d7e7e" stroke="#7d7e7e" stroke-width="0.4" stroke-linejoin="round"/>
<polygon points="177.36,933.41 188.68,932.02 192.15,936.31 180.75,937.71" fill="#b2b2b2" stroke="#b2b2b2" stroke-width="0.4" stroke-linejoin="round"/>
<line x1="184.74" y1="934.85" x2="184.7" y2="932.85" stroke="#111" stroke-width="1.0"/>
<line x1="185" y1="933.15" x2="183.5" y2="932.05" stroke="#111" stroke-width="0.9"/>
<polygon points="483.69,962.54 488.3,966.22 488.34,965.03 483.73,961.35" fill="#c6c6c6" stroke="#c6c6c6" stroke-width="0.4" stroke-linejoin="round"/>
<polygon points="488.3,966.22 497.29,964.98 497.34,963.78 488.34,965.03" fill="#7d7e7e" stroke="#7d7e7e" stroke-width="0.4" stroke-linejoin="round"/>
<polygon points="483.73,961.35 492.68,960.12 497.34,963.78 488.34,965.03" fill="#959595" stroke="#959595" stroke-width="0.4" stroke-linejoin="round"/>
<line x1="490.32" y1="961.26" x2="490.72" y2="963.86" stroke="#333" stroke-width="1.8"/>
<polygon points="413.84,972.16 418.09,975.96 418.12,974.76 413.86,970.97" fill="#c6c6c6" stroke="#c6c6c6" stroke-width="0.4" stroke-linejoin="round"/>
<polygon points="418.09,975.96 427.38,974.67 427.41,973.48 418.12,974.76" fill="#7d7e7e" stroke="#7d7e7e" stroke-width="0.4" stroke-linejoin="round"/>
<polygon points="413.86,970.97 423.1,969.7 427.41,973.48 418.12,974.76" fill="#959595" stroke="#959595" stroke-width="0.4" stroke-linejoin="round"/>
<line x1="420.42" y1="970.92" x2="420.82" y2="973.52" stroke="#333" stroke-width="1.8"/>
<polygon points="341.72,982.1 345.6,986.02 345.61,984.82 341.73,980.9" fill="#c6c6c6" stroke="#c6c6c6" stroke-width="0.4" stroke-linejoin="round"/>
<polygon points="345.6,986.02 355.19,984.69 355.2,983.49 345.61,984.82" fill="#7d7e7e" stroke="#7d7e7e" stroke-width="0.4" stroke-linejoin="round"/>
<polygon points="341.73,980.9 351.28,979.59 355.2,983.49 345.61,984.82" fill="#959595" stroke="#959595" stroke-width="0.4" stroke-linejoin="round"/>
<line x1="348.25" y1="980.9" x2="348.65" y2="983.5" stroke="#333" stroke-width="1.8"/>
<polygon points="266.33,992.11 270.37,996.84 270.32,985.54 266.27,980.88" fill="#c6c6c6" stroke="#c6c6c6" stroke-width="0.4" stroke-linejoin="round"/>
<polygon points="270.37,996.84 281.52,995.29 281.49,984.01 270.32,985.54" fill="#7d7e7e" stroke="#7d7e7e" stroke-width="0.4" stroke-linejoin="round"/>
<polygon points="266.27,980.88 277.37,979.38 281.49,984.01 270.32,985.54" fill="#b2b2b2" stroke="#b2b2b2" stroke-width="0.4" stroke-linejoin="round"/>
<line x1="273.86" y1="982.44" x2="273.82" y2="972.44" stroke="#111" stroke-width="1.0"/>
<line x1="274.12" y1="972.74" x2="272.62" y2="971.64" stroke="#111" stroke-width="0.9"/>
<polygon points="189.35,1002.7 192.88,1007.59 188.49,769.59 184.84,766.35" fill="#c6c6c6" stroke="#c6c6c6" stroke-width="0.4" stroke-linejoin="round"/>
<polygon points="192.88,1007.59 204.41,1005.99 200.52,768.54 188.49,769.59" fill="#7d7e7e" stroke="#7d7e7e" stroke-width="0.4" stroke-linejoin="round"/>
<polygon points="184.84,766.35 196.8,765.31 200.52,768.54 188.49,769.59" fill="#b2b2b2" stroke="#b2b2b2" stroke-width="0.4" stroke-linejoin="round"/>
<line x1="192.66" y1="767.44" x2="191.68" y2="711.94" stroke="#111" stroke-width="1.0"/>
<line x1="191.98" y1="712.24" x2="190.48" y2="711.14" stroke="#111" stroke-width="0.9"/>
<polygon points="501.04,976.41 505.87,980.26 505.91,979.06 501.09,975.21" fill="#c6c6c6" stroke="#c6c6c6" stroke-width="0.4" stroke-linejoin="round"/>
<polygon points="505.87,980.26 515.03,978.95 515.08,977.75 505.91,979.06" fill="#7d7e7e" stroke="#7d7e7e" stroke-width="0.4" stroke-linejoin="round"/>
<polygon points="501.09,975.21 510.21,973.92 515.08,977.75 505.91,979.06" fill="#959595" stroke="#959595" stroke-width="0.4" stroke-linejoin="round"/>
<line x1="507.87" y1="975.18" x2="508.27" y2="977.78" stroke="#333" stroke-width="1.8"/>
<polygon points="429.86,986.48 434.32,990.45 434.35,989.25 429.89,985.28" fill="#c6c6c6" stroke="#c6c6c6" stroke-width="0.4" stroke-linejoin="round"/>
<polygon points="434.32,990.45 443.79,989.1 443.82,987.91 434.35,989.25" fill="#7d7e7e" stroke="#7d7e7e" stroke-width="0.4" stroke-linejoin="round"/>
<polygon points="429.89,985.28 439.31,983.95 443.82,987.91 434.35,989.25" fill="#959595" stroke="#959595" stroke-width="0.4" stroke-linejoin="round"/>
<line x1="436.64" y1="985.29" x2="437.04" y2="987.89" stroke="#333" stroke-width="1.8"/>
<polygon points="356.32,996.88 360.38,1000.99 360.39,999.79 356.33,995.69" fill="#c6c6c6" stroke="#c6c6c6" stroke-width="0.4" stroke-linejoin="round"/>
<polygon points="360.38,1000.99 370.16,999.6 370.18,998.4 360.39,999.79" fill="#7d7e7e" stroke="#7d7e7e" stroke-width="0.4" stroke-linejoin="round"/>
<polygon points="356.33,995.69 366.07,994.31 370.18,998.4 360.39,999.79" fill="#959595" stroke="#959595" stroke-width="0.4" stroke-linejoin="round"/>
<line x1="363.04" y1="995.74" x2="363.44" y2="998.34" stroke="#333" stroke-width="1.8"/>
<polygon points="279.36,1007.37 283.6,1012.33 283.53,979.33 279.27,974.59" fill="#c6c6c6" stroke="#c6c6c6" stroke-width="0.4" stroke-linejoin="round"/>
<polygon points="283.6,1012.33 294.98,1010.71 294.98,977.78 283.53,979.33" fill="#7d7e7e" stroke="#7d7e7e" stroke-width="0.4" stroke-linejoin="round"/>
<polygon points="279.27,974.59 290.65,973.06 294.98,977.78 283.53,979.33" fill="#b2b2b2" stroke="#b2b2b2" stroke-width="0.4" stroke-linejoin="round"/>
<line x1="287.11" y1="976.18" x2="287.06" y2="945.18" stroke="#111" stroke-width="1.0"/>
<line x1="287.36" y1="945.48" x2="285.86" y2="944.38" stroke="#111" stroke-width="0.9"/>
<polygon points="200.74,1018.49 204.44,1023.62 203.74,981.12 200.02,976.28" fill="#c6c6c6" stroke="#c6c6c6" stroke-width="0.4" stroke-linejoin="round"/>
<polygon points="204.44,1023.62 216.23,1021.94 215.62,979.53 203.74,981.12" fill="#7d7e7e" stroke="#7d7e7e" stroke-width="0.4" stroke-linejoin="round"/>
<polygon points="200.02,976.28 211.81,974.72 215.62,979.53 203.74,981.12" fill="#b2b2b2" stroke="#b2b2b2" stroke-width="0.4" stroke-linejoin="round"/>
<line x1="207.8" y1="977.9" x2="207.67" y2="969.5" stroke="#111" stroke-width="1.0"/>
<line x1="207.97" y1="969.8" x2="206.47" y2="968.7" stroke="#111" stroke-width="0.9"/>
<polygon points="519.21,990.91 524.26,994.95 524.31,993.75 519.26,989.72" fill="#c6c6c6" stroke="#c6c6c6" stroke-width="0.4" stroke-linejoin="round"/>
<polygon points="524.26,994.95 533.6,993.58 533.65,992.38 524.31,993.75" fill="#7d7e7e" stroke="#7d7e7e" stroke-width="0.4" stroke-linejoin="round"/>
<polygon points="519.26,989.72 528.55,988.37 533.65,992.38 524.31,993.75" fill="#959595" stroke="#959595" stroke-width="0.4" stroke-linejoin="round"/>
<line x1="526.24" y1="989.75" x2="526.64" y2="992.35" stroke="#333" stroke-width="1.8"/>
<polygon points="446.65,1001.46 451.32,1005.63 451.35,1004.43 446.68,1000.27" fill="#c6c6c6" stroke="#c6c6c6" stroke-width="0.4" stroke-linejoin="round"/>
<polygon points="451.32,1005.63 460.97,1004.22 461.01,1003.02 451.35,1004.43" fill="#7d7e7e" stroke="#7d7e7e" stroke-width="0.4" stroke-linejoin="round"/>
<polygon points="446.68,1000.27 456.29,998.88 461.01,1003.02 451.35,1004.43" fill="#959595" stroke="#959595" stroke-width="0.4" stroke-linejoin="round"/>
<line x1="453.63" y1="1000.34" x2="454.03" y2="1002.94" stroke="#333" stroke-width="1.8"/>
<polygon points="371.62,1012.37 375.87,1016.69 375.89,1015.49 371.63,1011.18" fill="#c6c6c6" stroke="#c6c6c6" stroke-width="0.4" stroke-linejoin="round"/>
<polygon points="375.87,1016.69 385.86,1015.22 385.88,1014.03 375.89,1015.49" fill="#7d7e7e" stroke="#7d7e7e" stroke-width="0.4" stroke-linejoin="round"/>
<polygon points="371.63,1011.18 381.57,1009.74 385.88,1014.03 375.89,1015.49" fill="#959595" stroke="#959595" stroke-width="0.4" stroke-linejoin="round"/>
<line x1="378.54" y1="1011.3" x2="378.94" y2="1013.9" stroke="#333" stroke-width="1.8"/>
<polygon points="293.03,1023.38 297.48,1028.59 297.5,995.59 293.02,990.61" fill="#c6c6c6" stroke="#c6c6c6" stroke-width="0.4" stroke-linejoin="round"/>
<polygon points="297.48,1028.59 309.11,1026.89 309.2,993.96 297.5,995.59" fill="#7d7e7e" stroke="#7d7e7e" stroke-width="0.4" stroke-linejoin="round"/>
<polygon points="293.02,990.61 304.64,989 309.2,993.96 297.5,995.59" fill="#b2b2b2" stroke="#b2b2b2" stroke-width="0.4" stroke-linejoin="round"/>
<line x1="300.89" y1="990.98" x2="301.29" y2="993.58" stroke="#333" stroke-width="1.8"/>
<polygon points="212.69,1035.06 216.58,1040.45 216.51,1035.45 212.62,1030.09" fill="#c6c6c6" stroke="#c6c6c6" stroke-width="0.4" stroke-linejoin="round"/>
<polygon points="216.58,1040.45 228.63,1038.69 228.57,1033.7 216.51,1035.45" fill="#7d7e7e" stroke="#7d7e7e" stroke-width="0.4" stroke-linejoin="round"/>
<polygon points="212.62,1030.09 224.59,1028.37 228.57,1033.7 216.51,1035.45" fill="#b2b2b2" stroke="#b2b2b2" stroke-width="0.4" stroke-linejoin="round"/>
<line x1="220.37" y1="1030.59" x2="220.77" y2="1033.19" stroke="#333" stroke-width="1.8"/>
<polyline points="87.37,603.23 98.49,921.24 185.21,1051.69 535.9,999.79" fill="none" stroke="#000" stroke-width="1.6" stroke-linejoin="miter"/>
<line x1="98.47" y1="920.5" x2="92.21" y2="921.24" stroke="#000" stroke-width="1.2"/>
<text transform="translate(86.71 926.84) rotate(-2.4)" font-family="'Liberation Serif',serif" font-size="14.2" font-weight="normal" font-style="normal" text-anchor="end">0</text>
<line x1="96.38" y1="860.9" x2="90.12" y2="861.56" stroke="#000" stroke-width="1.2"/>
<text transform="translate(84.62 867.16) rotate(-2.4)" font-family="'Liberation Serif',serif" font-size="14.2" font-weight="normal" font-style="normal" text-anchor="end">200000</text>
<line x1="94.21" y1="798.7" x2="87.93" y2="799.28" stroke="#000" stroke-width="1.2"/>
<text transform="translate(82.43 804.88) rotate(-2.4)" font-family="'Liberation Serif',serif" font-size="14.2" font-weight="normal" font-style="normal" text-anchor="end">400000</text>
<line x1="91.99" y1="735.2" x2="85.71" y2="735.69" stroke="#000" stroke-width="1.2"/>
<text transform="translate(80.21 741.29) rotate(-2.4)" font-family="'Liberation Serif',serif" font-size="14.2" font-weight="normal" font-style="normal" text-anchor="end">600000</text>
<line x1="89.69" y1="669.6" x2="83.41" y2="670.01" stroke="#000" stroke-width="1.2"/>
<text transform="translate(77.91 675.61) rotate(-2.4)" font-family="'Liberation Serif',serif" font-size="14.2" font-weight="normal" font-style="normal" text-anchor="end">800000</text>
<line x1="87.38" y1="603.5" x2="81.09" y2="603.82" stroke="#000" stroke-width="1.2"/>
<text transform="translate(75.59 609.42) rotate(-2.4)" font-family="'Liberation Serif',serif" font-size="14.2" font-weight="normal" font-style="normal" text-anchor="end">1000000</text>
<line x1="102.45" y1="927.19" x2="96" y2="927.96" stroke="#000" stroke-width="1.3"/>
<text transform="matrix(1.3748 -0.1647 0.2749 0.4277 92.10 930.78)" font-family="'Liberation Serif',serif" font-size="10" font-weight="bold" font-style="normal" text-anchor="end" stroke="#000" stroke-width="0.3">Dec-18</text>
<line x1="110.62" y1="939.49" x2="104.17" y2="940.28" stroke="#000" stroke-width="1.3"/>
<text transform="matrix(1.4021 -0.1719 0.2869 0.4464 100.10 943.23)" font-family="'Liberation Serif',serif" font-size="10" font-weight="bold" font-style="normal" text-anchor="end" stroke="#000" stroke-width="0.3">Feb-19</text>
<line x1="119.15" y1="952.32" x2="112.7" y2="953.13" stroke="#000" stroke-width="1.3"/>
<text transform="matrix(1.4305 -0.1796 0.2997 0.4663 108.45 956.23)" font-family="'Liberation Serif',serif" font-size="10" font-weight="bold" font-style="normal" text-anchor="end" stroke="#000" stroke-width="0.3">Apr-19</text>
<line x1="128.06" y1="965.72" x2="121.62" y2="966.55" stroke="#000" stroke-width="1.3"/>
<text transform="matrix(1.4600 -0.1878 0.3133 0.4875 117.18 969.81)" font-family="'Liberation Serif',serif" font-size="10" font-weight="bold" font-style="normal" text-anchor="end" stroke="#000" stroke-width="0.3">Jun-19</text>
<line x1="137.38" y1="979.74" x2="130.94" y2="980.59" stroke="#000" stroke-width="1.3"/>
<text transform="matrix(1.4908 -0.1966 0.3280 0.5103 126.31 984.02)" font-family="'Liberation Serif',serif" font-size="10" font-weight="bold" font-style="normal" text-anchor="end" stroke="#000" stroke-width="0.3">Jul-19</text>
<line x1="147.14" y1="994.42" x2="140.7" y2="995.29" stroke="#000" stroke-width="1.3"/>
<text transform="matrix(1.5229 -0.2060 0.3436 0.5347 135.88 998.90)" font-family="'Liberation Serif',serif" font-size="10" font-weight="bold" font-style="normal" text-anchor="end" stroke="#000" stroke-width="0.3">Aug-19</text>
<line x1="157.37" y1="1009.8" x2="150.93" y2="1010.69" stroke="#000" stroke-width="1.3"/>
<text transform="matrix(1.5564 -0.2162 0.3604 0.5608 145.90 1014.50)" font-family="'Liberation Serif',serif" font-size="10" font-weight="bold" font-style="normal" text-anchor="end" stroke="#000" stroke-width="0.3">Sep-19</text>
<line x1="168.09" y1="1025.94" x2="161.66" y2="1026.85" stroke="#000" stroke-width="1.3"/>
<text transform="matrix(1.5914 -0.2271 0.3785 0.5889 156.43 1030.88)" font-family="'Liberation Serif',serif" font-size="10" font-weight="bold" font-style="normal" text-anchor="end" stroke="#000" stroke-width="0.3">Oct-19</text>
<line x1="179.36" y1="1042.89" x2="172.93" y2="1043.83" stroke="#000" stroke-width="1.3"/>
<text transform="matrix(1.6280 -0.2388 0.3980 0.6192 167.48 1048.08)" font-family="'Liberation Serif',serif" font-size="10" font-weight="bold" font-style="normal" text-anchor="end" stroke="#000" stroke-width="0.3">Dec-19</text>
<line x1="226.96" y1="1045.51" x2="229.03" y2="1048.34" stroke="#000" stroke-width="1.3"/>
<line x1="308.26" y1="1033.48" x2="310.55" y2="1036.13" stroke="#000" stroke-width="1.3"/>
<line x1="386.76" y1="1021.86" x2="389.23" y2="1024.34" stroke="#000" stroke-width="1.3"/>
<line x1="462.59" y1="1010.64" x2="465.21" y2="1012.96" stroke="#000" stroke-width="1.3"/>
<line x1="535.9" y1="999.79" x2="538.64" y2="1001.96" stroke="#000" stroke-width="1.3"/>
<text transform="translate(100 650) rotate(-3)" font-family="'Liberation Serif',serif" font-size="24.2" font-weight="normal" font-style="normal" text-anchor="start">Sediments</text>
<text transform="translate(26.5 773) rotate(-92)" font-family="'Liberation Serif',serif" font-size="17" font-weight="bold" font-style="normal" text-anchor="middle">Abundance (cells 100 cm<tspan dy="-6" font-size="11">-2</tspan><tspan dy="6">)</tspan></text>
<text transform="matrix(1.3630 -0.2056 0.5682 0.7836 231.83 1057.84)" font-family="'Liberation Serif',serif" font-size="10" font-weight="bold" font-style="normal" text-anchor="start" stroke="#000" stroke-width="0.3">A</text>
<text transform="matrix(1.3156 -0.1985 0.6474 0.7566 313.35 1045.63)" font-family="'Liberation Serif',serif" font-size="10" font-weight="bold" font-style="normal" text-anchor="start" stroke="#000" stroke-width="0.3">D</text>
<text transform="matrix(1.2706 -0.1917 0.7208 0.7309 392.03 1033.84)" font-family="'Liberation Serif',serif" font-size="10" font-weight="bold" font-style="normal" text-anchor="start" stroke="#000" stroke-width="0.3">B</text>
<text transform="matrix(1.2279 -0.1853 0.7889 0.7065 468.01 1022.46)" font-family="'Liberation Serif',serif" font-size="10" font-weight="bold" font-style="normal" text-anchor="start" stroke="#000" stroke-width="0.3">C</text>
<text transform="matrix(1.1874 -0.1792 0.8521 0.6834 541.44 1011.46)" font-family="'Liberation Serif',serif" font-size="10" font-weight="bold" font-style="normal" text-anchor="start" stroke="#000" stroke-width="0.3">E</text>
<text transform="matrix(1.4153 -0.2187 0.6532 0.6892 382.60 1051.50)" font-family="'Liberation Serif',serif" font-size="13" font-weight="bold" font-style="normal" text-anchor="middle" stroke="#000" stroke-width="0.3">Station</text>
<text transform="matrix(0.3043 0.5740 -1.5274 0.2006 58.70 990.30)" font-family="'Liberation Serif',serif" font-size="12.5" font-weight="bold" font-style="normal" text-anchor="middle" stroke="#000" stroke-width="0.3">Month</text>
</g>
<g>
<line x1="679.74" y1="918.2" x2="978.91" y2="883.76" stroke="#9c9c9c" stroke-width="0.8"/>
<line x1="978.91" y1="883.76" x2="1124.59" y2="998.53" stroke="#8a8a8a" stroke-width="0.8"/>
<line x1="677.35" y1="853.6" x2="980.02" y2="822.77" stroke="#9c9c9c" stroke-width="0.8"/>
<line x1="980.02" y1="822.77" x2="1127.94" y2="925.92" stroke="#8a8a8a" stroke-width="0.8"/>
<line x1="674.83" y1="785.5" x2="981.2" y2="758.57" stroke="#9c9c9c" stroke-width="0.8"/>
<line x1="981.2" y1="758.57" x2="1131.48" y2="849.12" stroke="#8a8a8a" stroke-width="0.8"/>
<line x1="672.22" y1="715.1" x2="982.41" y2="692.32" stroke="#9c9c9c" stroke-width="0.8"/>
<line x1="982.41" y1="692.32" x2="1135.15" y2="769.44" stroke="#8a8a8a" stroke-width="0.8"/>
<line x1="669.61" y1="644.5" x2="983.62" y2="625.97" stroke="#9c9c9c" stroke-width="0.8"/>
<line x1="983.62" y1="625.97" x2="1138.85" y2="689.23" stroke="#8a8a8a" stroke-width="0.8"/>
<line x1="714.91" y1="914.8" x2="705.12" y2="593.52" stroke="#9c9c9c" stroke-width="0.8"/>
<line x1="783.72" y1="906.86" x2="778.1" y2="589.95" stroke="#9c9c9c" stroke-width="0.8"/>
<line x1="850.6" y1="899.16" x2="848.93" y2="586.48" stroke="#9c9c9c" stroke-width="0.8"/>
<line x1="915.63" y1="891.66" x2="917.69" y2="583.12" stroke="#9c9c9c" stroke-width="0.8"/>
<line x1="985.63" y1="889.68" x2="991.64" y2="582.29" stroke="#8a8a8a" stroke-width="0.8"/>
<line x1="999.51" y1="900.63" x2="1006.45" y2="587.33" stroke="#8a8a8a" stroke-width="0.8"/>
<line x1="1013.96" y1="912.02" x2="1021.9" y2="592.58" stroke="#8a8a8a" stroke-width="0.8"/>
<line x1="1029.01" y1="923.89" x2="1038.04" y2="598.07" stroke="#8a8a8a" stroke-width="0.8"/>
<line x1="1044.71" y1="936.28" x2="1054.92" y2="603.81" stroke="#8a8a8a" stroke-width="0.8"/>
<line x1="1061.09" y1="949.2" x2="1072.58" y2="609.81" stroke="#8a8a8a" stroke-width="0.8"/>
<line x1="1078.21" y1="962.7" x2="1091.08" y2="616.1" stroke="#8a8a8a" stroke-width="0.8"/>
<line x1="1096.11" y1="976.82" x2="1110.48" y2="622.7" stroke="#8a8a8a" stroke-width="0.8"/>
<line x1="1114.85" y1="991.6" x2="1130.85" y2="629.63" stroke="#8a8a8a" stroke-width="0.8"/>
<line x1="683.8" y1="924.87" x2="985.63" y2="889.68" stroke="#858585" stroke-width="0.8"/>
<line x1="692.13" y1="937.31" x2="999.51" y2="900.63" stroke="#858585" stroke-width="0.8"/>
<line x1="700.82" y1="950.29" x2="1013.96" y2="912.02" stroke="#858585" stroke-width="0.8"/>
<line x1="709.91" y1="963.86" x2="1029.01" y2="923.89" stroke="#858585" stroke-width="0.8"/>
<line x1="719.41" y1="978.05" x2="1044.71" y2="936.28" stroke="#858585" stroke-width="0.8"/>
<line x1="729.36" y1="992.91" x2="1061.09" y2="949.2" stroke="#858585" stroke-width="0.8"/>
<line x1="739.78" y1="1008.48" x2="1078.21" y2="962.7" stroke="#858585" stroke-width="0.8"/>
<line x1="750.73" y1="1024.82" x2="1096.11" y2="976.82" stroke="#858585" stroke-width="0.8"/>
<line x1="762.22" y1="1041.98" x2="1114.85" y2="991.6" stroke="#858585" stroke-width="0.8"/>
<line x1="714.91" y1="914.8" x2="810.58" y2="1044.75" stroke="#858585" stroke-width="0.8"/>
<line x1="783.72" y1="906.86" x2="893.17" y2="1032.79" stroke="#858585" stroke-width="0.8"/>
<line x1="850.6" y1="899.16" x2="972.93" y2="1021.23" stroke="#858585" stroke-width="0.8"/>
<line x1="915.63" y1="891.66" x2="1050.01" y2="1010.06" stroke="#858585" stroke-width="0.8"/>
<line x1="667.79" y1="595.35" x2="984.47" y2="579.85" stroke="#333" stroke-width="0.9"/>
<line x1="984.47" y1="579.85" x2="1141.43" y2="633.23" stroke="#333" stroke-width="0.9"/>
<line x1="978.9" y1="884.37" x2="984.47" y2="579.85" stroke="#333" stroke-width="0.9"/>
<line x1="1124.56" y1="999.26" x2="1141.43" y2="633.23" stroke="#333" stroke-width="0.9"/>
<line x1="679.76" y1="918.85" x2="978.9" y2="884.37" stroke="#333" stroke-width="0.9"/>
<line x1="978.9" y1="884.37" x2="1124.56" y2="999.26" stroke="#333" stroke-width="0.9"/>
<polygon points="979.7,888.71 983.35,891.61 983.38,890.41 979.72,887.52" fill="#c6c6c6" stroke="#c6c6c6" stroke-width="0.4" stroke-linejoin="round"/>
<polygon points="983.35,891.61 991.59,890.65 991.61,889.45 983.38,890.41" fill="#7d7e7e" stroke="#7d7e7e" stroke-width="0.4" stroke-linejoin="round"/>
<polygon points="979.72,887.52 987.92,886.57 991.61,889.45 983.38,890.41" fill="#959595" stroke="#959595" stroke-width="0.4" stroke-linejoin="round"/>
<line x1="985.46" y1="887.18" x2="985.86" y2="889.78" stroke="#333" stroke-width="1.8"/>
<polygon points="915.93,896.12 919.29,899.11 919.3,897.91 915.94,894.93" fill="#c6c6c6" stroke="#c6c6c6" stroke-width="0.4" stroke-linejoin="round"/>
<polygon points="919.29,899.11 927.75,898.12 927.76,896.92 919.3,897.91" fill="#7d7e7e" stroke="#7d7e7e" stroke-width="0.4" stroke-linejoin="round"/>
<polygon points="915.94,894.93 924.36,893.95 927.76,896.92 919.3,897.91" fill="#959595" stroke="#959595" stroke-width="0.4" stroke-linejoin="round"/>
<line x1="921.64" y1="894.62" x2="922.04" y2="897.22" stroke="#333" stroke-width="1.8"/>
<polygon points="850.36,903.75 853.4,906.81 853.4,905.61 850.35,902.55" fill="#c6c6c6" stroke="#c6c6c6" stroke-width="0.4" stroke-linejoin="round"/>
<polygon points="853.4,906.81 862.11,905.79 862.1,904.6 853.4,905.61" fill="#7d7e7e" stroke="#7d7e7e" stroke-width="0.4" stroke-linejoin="round"/>
<polygon points="850.35,902.55 859.01,901.55 862.1,904.6 853.4,905.61" fill="#959595" stroke="#959595" stroke-width="0.4" stroke-linejoin="round"/>
<line x1="856.02" y1="902.27" x2="856.42" y2="904.87" stroke="#333" stroke-width="1.8"/>
<polygon points="782.13,911.39 785.3,915.07 784.9,892.57 781.73,889.02" fill="#c6c6c6" stroke="#c6c6c6" stroke-width="0.4" stroke-linejoin="round"/>
<polygon points="785.3,915.07 795.37,913.89 795.02,891.43 784.9,892.57" fill="#7d7e7e" stroke="#7d7e7e" stroke-width="0.4" stroke-linejoin="round"/>
<polygon points="781.73,889.02 791.78,887.9 795.02,891.43 784.9,892.57" fill="#b2b2b2" stroke="#b2b2b2" stroke-width="0.4" stroke-linejoin="round"/>
<line x1="788.36" y1="890.22" x2="788.28" y2="885.62" stroke="#111" stroke-width="1.0"/>
<line x1="788.58" y1="885.92" x2="787.08" y2="884.82" stroke="#111" stroke-width="0.9"/>
<polygon points="712.74,919.45 715.49,923.24 714.8,900.54 712.04,896.88" fill="#c6c6c6" stroke="#c6c6c6" stroke-width="0.4" stroke-linejoin="round"/>
<polygon points="715.49,923.24 725.86,922.02 725.21,899.37 714.8,900.54" fill="#7d7e7e" stroke="#7d7e7e" stroke-width="0.4" stroke-linejoin="round"/>
<polygon points="712.04,896.88 722.39,895.73 725.21,899.37 714.8,900.54" fill="#b2b2b2" stroke="#b2b2b2" stroke-width="0.4" stroke-linejoin="round"/>
<line x1="718.61" y1="898.12" x2="718.35" y2="889.12" stroke="#111" stroke-width="1.0"/>
<line x1="718.65" y1="889.42" x2="717.15" y2="888.32" stroke="#111" stroke-width="0.9"/>
<polygon points="993.43,899.62 997.24,902.64 997.26,901.44 993.46,898.43" fill="#c6c6c6" stroke="#c6c6c6" stroke-width="0.4" stroke-linejoin="round"/>
<polygon points="997.24,902.64 1005.61,901.64 1005.64,900.44 997.26,901.44" fill="#7d7e7e" stroke="#7d7e7e" stroke-width="0.4" stroke-linejoin="round"/>
<polygon points="993.46,898.43 1001.79,897.44 1005.64,900.44 997.26,901.44" fill="#959595" stroke="#959595" stroke-width="0.4" stroke-linejoin="round"/>
<line x1="999.34" y1="898.13" x2="999.74" y2="900.73" stroke="#333" stroke-width="1.8"/>
<polygon points="928.56,907.34 932.06,910.44 932.07,909.24 928.57,906.14" fill="#c6c6c6" stroke="#c6c6c6" stroke-width="0.4" stroke-linejoin="round"/>
<polygon points="932.06,910.44 940.67,909.41 940.68,908.21 932.07,909.24" fill="#7d7e7e" stroke="#7d7e7e" stroke-width="0.4" stroke-linejoin="round"/>
<polygon points="928.57,906.14 937.14,905.13 940.68,908.21 932.07,909.24" fill="#959595" stroke="#959595" stroke-width="0.4" stroke-linejoin="round"/>
<line x1="934.41" y1="905.88" x2="934.81" y2="908.48" stroke="#333" stroke-width="1.8"/>
<polygon points="861,915.08 864.7,918.81 864.69,913.81 860.98,910.11" fill="#c6c6c6" stroke="#c6c6c6" stroke-width="0.4" stroke-linejoin="round"/>
<polygon points="864.7,918.81 874.67,917.61 874.66,912.62 864.69,913.81" fill="#7d7e7e" stroke="#7d7e7e" stroke-width="0.4" stroke-linejoin="round"/>
<polygon points="860.98,910.11 870.9,908.94 874.66,912.62 864.69,913.81" fill="#b2b2b2" stroke="#b2b2b2" stroke-width="0.4" stroke-linejoin="round"/>
<line x1="867.81" y1="911.36" x2="867.79" y2="904.36" stroke="#111" stroke-width="1.0"/>
<line x1="868.09" y1="904.66" x2="866.59" y2="903.56" stroke="#111" stroke-width="0.9"/>
<polygon points="792.32,923.24 795.62,927.08 795.49,919.08 792.19,915.29" fill="#c6c6c6" stroke="#c6c6c6" stroke-width="0.4" stroke-linejoin="round"/>
<polygon points="795.62,927.08 805.88,925.85 805.77,917.87 795.49,919.08" fill="#7d7e7e" stroke="#7d7e7e" stroke-width="0.4" stroke-linejoin="round"/>
<polygon points="792.19,915.29 802.41,914.09 805.77,917.87 795.49,919.08" fill="#b2b2b2" stroke="#b2b2b2" stroke-width="0.4" stroke-linejoin="round"/>
<line x1="798.97" y1="916.58" x2="798.91" y2="913.08" stroke="#111" stroke-width="1.0"/>
<line x1="799.21" y1="913.38" x2="797.71" y2="912.28" stroke="#111" stroke-width="0.9"/>
<polygon points="721.6,931.65 724.48,935.6 722.98,883.6 720.09,879.97" fill="#c6c6c6" stroke="#c6c6c6" stroke-width="0.4" stroke-linejoin="round"/>
<polygon points="724.48,935.6 735.04,934.34 733.65,882.44 722.98,883.6" fill="#7d7e7e" stroke="#7d7e7e" stroke-width="0.4" stroke-linejoin="round"/>
<polygon points="720.09,879.97 730.7,878.82 733.65,882.44 722.98,883.6" fill="#b2b2b2" stroke="#b2b2b2" stroke-width="0.4" stroke-linejoin="round"/>
<line x1="726.85" y1="881.2" x2="726.57" y2="871.2" stroke="#111" stroke-width="1.0"/>
<line x1="726.87" y1="871.5" x2="725.37" y2="870.4" stroke="#111" stroke-width="0.9"/>
<polygon points="1007.73,910.97 1011.69,914.12 1011.72,912.92 1007.76,909.78" fill="#c6c6c6" stroke="#c6c6c6" stroke-width="0.4" stroke-linejoin="round"/>
<polygon points="1011.69,914.12 1020.21,913.07 1020.24,911.88 1011.72,912.92" fill="#7d7e7e" stroke="#7d7e7e" stroke-width="0.4" stroke-linejoin="round"/>
<polygon points="1007.76,909.78 1016.24,908.75 1020.24,911.88 1011.72,912.92" fill="#959595" stroke="#959595" stroke-width="0.4" stroke-linejoin="round"/>
<line x1="1013.79" y1="909.53" x2="1014.19" y2="912.13" stroke="#333" stroke-width="1.8"/>
<polygon points="941.71,919.02 945.36,922.25 945.37,921.05 941.72,917.82" fill="#c6c6c6" stroke="#c6c6c6" stroke-width="0.4" stroke-linejoin="round"/>
<polygon points="945.36,922.25 954.12,921.18 954.14,919.98 945.37,921.05" fill="#7d7e7e" stroke="#7d7e7e" stroke-width="0.4" stroke-linejoin="round"/>
<polygon points="941.72,917.82 950.45,916.76 954.14,919.98 945.37,921.05" fill="#959595" stroke="#959595" stroke-width="0.4" stroke-linejoin="round"/>
<line x1="947.72" y1="917.6" x2="948.12" y2="920.2" stroke="#333" stroke-width="1.8"/>
<polygon points="872.92,927.09 876.78,930.98 876.78,927.98 872.92,924.1" fill="#c6c6c6" stroke="#c6c6c6" stroke-width="0.4" stroke-linejoin="round"/>
<polygon points="876.78,930.98 886.93,929.73 886.93,926.74 876.78,927.98" fill="#7d7e7e" stroke="#7d7e7e" stroke-width="0.4" stroke-linejoin="round"/>
<polygon points="872.92,924.1 883.01,922.88 886.93,926.74 876.78,927.98" fill="#b2b2b2" stroke="#b2b2b2" stroke-width="0.4" stroke-linejoin="round"/>
<line x1="879.91" y1="925.42" x2="879.91" y2="921.42" stroke="#111" stroke-width="1.0"/>
<line x1="880.21" y1="921.72" x2="878.71" y2="920.62" stroke="#111" stroke-width="0.9"/>
<polygon points="802.95,935.61 806.39,939.61 806.19,925.31 802.74,921.39" fill="#c6c6c6" stroke="#c6c6c6" stroke-width="0.4" stroke-linejoin="round"/>
<polygon points="806.39,939.61 816.85,938.33 816.68,924.06 806.19,925.31" fill="#7d7e7e" stroke="#7d7e7e" stroke-width="0.4" stroke-linejoin="round"/>
<polygon points="802.74,921.39 813.17,920.15 816.68,924.06 806.19,925.31" fill="#b2b2b2" stroke="#b2b2b2" stroke-width="0.4" stroke-linejoin="round"/>
<line x1="809.7" y1="922.72" x2="809.54" y2="910.72" stroke="#111" stroke-width="1.0"/>
<line x1="809.84" y1="911.02" x2="808.34" y2="909.92" stroke="#111" stroke-width="0.9"/>
<polygon points="730.85,944.38 733.85,948.51 730.12,810.91 727.07,807.65" fill="#c6c6c6" stroke="#c6c6c6" stroke-width="0.4" stroke-linejoin="round"/>
<polygon points="733.85,948.51 744.63,947.19 741.18,809.87 730.12,810.91" fill="#7d7e7e" stroke="#7d7e7e" stroke-width="0.4" stroke-linejoin="round"/>
<polygon points="727.07,807.65 738.06,806.62 741.18,809.87 730.12,810.91" fill="#b2b2b2" stroke="#b2b2b2" stroke-width="0.4" stroke-linejoin="round"/>
<line x1="734.11" y1="808.75" x2="733.16" y2="772.75" stroke="#111" stroke-width="1.0"/>
<line x1="733.46" y1="773.05" x2="731.96" y2="771.95" stroke="#111" stroke-width="0.9"/>
<polygon points="1022.62,922.8 1026.75,926.08 1026.79,924.88 1022.66,921.61" fill="#c6c6c6" stroke="#c6c6c6" stroke-width="0.4" stroke-linejoin="round"/>
<polygon points="1026.75,926.08 1035.42,924.99 1035.45,923.79 1026.79,924.88" fill="#7d7e7e" stroke="#7d7e7e" stroke-width="0.4" stroke-linejoin="round"/>
<polygon points="1022.66,921.61 1031.28,920.53 1035.45,923.79 1026.79,924.88" fill="#959595" stroke="#959595" stroke-width="0.4" stroke-linejoin="round"/>
<line x1="1028.84" y1="921.4" x2="1029.24" y2="924" stroke="#333" stroke-width="1.8"/>
<polygon points="954.56,930.98 958.99,934.92 959.03,931.92 954.6,928" fill="#c6c6c6" stroke="#c6c6c6" stroke-width="0.4" stroke-linejoin="round"/>
<polygon points="958.99,934.92 969.03,933.66 969.08,930.66 959.03,931.92" fill="#7d7e7e" stroke="#7d7e7e" stroke-width="0.4" stroke-linejoin="round"/>
<polygon points="954.6,928 964.58,926.76 969.08,930.66 959.03,931.92" fill="#b2b2b2" stroke="#b2b2b2" stroke-width="0.4" stroke-linejoin="round"/>
<line x1="961.82" y1="929.33" x2="961.9" y2="924.33" stroke="#111" stroke-width="1.0"/>
<line x1="962.2" y1="924.63" x2="960.7" y2="923.53" stroke="#111" stroke-width="0.9"/>
<polygon points="885.35,939.61 889.38,943.67 889.45,901.87 885.4,898.07" fill="#c6c6c6" stroke="#c6c6c6" stroke-width="0.4" stroke-linejoin="round"/>
<polygon points="889.38,943.67 899.72,942.37 899.88,900.65 889.45,901.87" fill="#7d7e7e" stroke="#7d7e7e" stroke-width="0.4" stroke-linejoin="round"/>
<polygon points="885.4,898.07 895.76,896.87 899.88,900.65 889.45,901.87" fill="#b2b2b2" stroke="#b2b2b2" stroke-width="0.4" stroke-linejoin="round"/>
<line x1="892.62" y1="899.36" x2="892.66" y2="884.66" stroke="#111" stroke-width="1.0"/>
<line x1="892.96" y1="884.96" x2="891.46" y2="883.86" stroke="#111" stroke-width="0.9"/>
<polygon points="814.04,948.51 817.63,952.69 817.13,909.69 813.51,905.78" fill="#c6c6c6" stroke="#c6c6c6" stroke-width="0.4" stroke-linejoin="round"/>
<polygon points="817.63,952.69 828.29,951.35 827.88,908.44 817.13,909.69" fill="#7d7e7e" stroke="#7d7e7e" stroke-width="0.4" stroke-linejoin="round"/>
<polygon points="813.51,905.78 824.2,904.54 827.88,908.44 817.13,909.69" fill="#b2b2b2" stroke="#b2b2b2" stroke-width="0.4" stroke-linejoin="round"/>
<line x1="820.68" y1="907.1" x2="820.5" y2="890.3" stroke="#111" stroke-width="1.0"/>
<line x1="820.8" y1="890.6" x2="819.3" y2="889.5" stroke="#111" stroke-width="0.9"/>
<polygon points="740.51,957.68 743.65,962 737.58,723 734.35,720.24" fill="#c6c6c6" stroke="#c6c6c6" stroke-width="0.4" stroke-linejoin="round"/>
<polygon points="743.65,962 754.64,960.61 749.08,722.12 737.58,723" fill="#7d7e7e" stroke="#7d7e7e" stroke-width="0.4" stroke-linejoin="round"/>
<polygon points="734.35,720.24 745.78,719.38 749.08,722.12 737.58,723" fill="#b2b2b2" stroke="#b2b2b2" stroke-width="0.4" stroke-linejoin="round"/>
<line x1="741.7" y1="721.18" x2="740.17" y2="659.18" stroke="#111" stroke-width="1.0"/>
<line x1="740.47" y1="659.48" x2="738.97" y2="658.38" stroke="#111" stroke-width="0.9"/>
<polygon points="1038.16,935.14 1042.46,938.56 1042.5,937.36 1038.19,933.94" fill="#c6c6c6" stroke="#c6c6c6" stroke-width="0.4" stroke-linejoin="round"/>
<polygon points="1042.46,938.56 1051.29,937.42 1051.32,936.22 1042.5,937.36" fill="#7d7e7e" stroke="#7d7e7e" stroke-width="0.4" stroke-linejoin="round"/>
<polygon points="1038.19,933.94 1046.97,932.82 1051.32,936.22 1042.5,937.36" fill="#959595" stroke="#959595" stroke-width="0.4" stroke-linejoin="round"/>
<line x1="1044.54" y1="933.78" x2="1044.94" y2="936.38" stroke="#333" stroke-width="1.8"/>
<polygon points="968.84,943.67 973.47,947.79 974.38,895.79 969.7,891.99" fill="#c6c6c6" stroke="#c6c6c6" stroke-width="0.4" stroke-linejoin="round"/>
<polygon points="973.47,947.79 983.69,946.47 984.7,894.57 974.38,895.79" fill="#7d7e7e" stroke="#7d7e7e" stroke-width="0.4" stroke-linejoin="round"/>
<polygon points="969.7,891.99 979.96,890.79 984.7,894.57 974.38,895.79" fill="#b2b2b2" stroke="#b2b2b2" stroke-width="0.4" stroke-linejoin="round"/>
<line x1="977.18" y1="893.28" x2="977.36" y2="883.58" stroke="#111" stroke-width="1.0"/>
<line x1="977.66" y1="883.88" x2="976.16" y2="882.78" stroke="#111" stroke-width="0.9"/>
<polygon points="898.33,952.69 902.54,956.93 902.6,941.93 898.38,937.78" fill="#c6c6c6" stroke="#c6c6c6" stroke-width="0.4" stroke-linejoin="round"/>
<polygon points="902.54,956.93 913.08,955.57 913.17,940.6 902.6,941.93" fill="#7d7e7e" stroke="#7d7e7e" stroke-width="0.4" stroke-linejoin="round"/>
<polygon points="898.38,937.78 908.89,936.47 913.17,940.6 902.6,941.93" fill="#b2b2b2" stroke="#b2b2b2" stroke-width="0.4" stroke-linejoin="round"/>
<line x1="905.76" y1="939.19" x2="905.8" y2="930.79" stroke="#111" stroke-width="1.0"/>
<line x1="906.1" y1="931.09" x2="904.6" y2="929.99" stroke="#111" stroke-width="0.9"/>
<polygon points="825.62,961.99 829.38,966.36 828.12,832.36 824.28,828.85" fill="#c6c6c6" stroke="#c6c6c6" stroke-width="0.4" stroke-linejoin="round"/>
<polygon points="829.38,966.36 840.25,964.96 839.27,831.24 828.12,832.36" fill="#7d7e7e" stroke="#7d7e7e" stroke-width="0.4" stroke-linejoin="round"/>
<polygon points="824.28,828.85 835.36,827.75 839.27,831.24 828.12,832.36" fill="#b2b2b2" stroke="#b2b2b2" stroke-width="0.4" stroke-linejoin="round"/>
<line x1="831.76" y1="830.04" x2="831.52" y2="803.04" stroke="#111" stroke-width="1.0"/>
<line x1="831.82" y1="803.34" x2="830.32" y2="802.24" stroke="#111" stroke-width="0.9"/>
<polygon points="750.61,971.59 753.89,976.1 748.49,746.6 745.11,743.61" fill="#c6c6c6" stroke="#c6c6c6" stroke-width="0.4" stroke-linejoin="round"/>
<polygon points="753.89,976.1 765.11,974.65 760.21,745.65 748.49,746.6" fill="#7d7e7e" stroke="#7d7e7e" stroke-width="0.4" stroke-linejoin="round"/>
<polygon points="745.11,743.61 756.75,742.67 760.21,745.65 748.49,746.6" fill="#b2b2b2" stroke="#b2b2b2" stroke-width="0.4" stroke-linejoin="round"/>
<line x1="752.64" y1="744.62" x2="750.98" y2="671.62" stroke="#111" stroke-width="1.0"/>
<line x1="751.28" y1="671.92" x2="749.78" y2="670.82" stroke="#111" stroke-width="0.9"/>
<polygon points="1054.37,948.01 1058.86,951.58 1058.9,950.38 1054.4,946.82" fill="#c6c6c6" stroke="#c6c6c6" stroke-width="0.4" stroke-linejoin="round"/>
<polygon points="1058.86,951.58 1067.85,950.39 1067.89,949.2 1058.9,950.38" fill="#7d7e7e" stroke="#7d7e7e" stroke-width="0.4" stroke-linejoin="round"/>
<polygon points="1054.4,946.82 1063.34,945.64 1067.89,949.2 1058.9,950.38" fill="#959595" stroke="#959595" stroke-width="0.4" stroke-linejoin="round"/>
<line x1="1060.93" y1="946.7" x2="1061.33" y2="949.3" stroke="#333" stroke-width="1.8"/>
<polygon points="983.76,956.93 988.59,961.23 988.68,957.23 983.83,952.95" fill="#c6c6c6" stroke="#c6c6c6" stroke-width="0.4" stroke-linejoin="round"/>
<polygon points="988.59,961.23 999.01,959.85 999.1,955.86 988.68,957.23" fill="#7d7e7e" stroke="#7d7e7e" stroke-width="0.4" stroke-linejoin="round"/>
<polygon points="983.83,952.95 994.2,951.6 999.1,955.86 988.68,957.23" fill="#b2b2b2" stroke="#b2b2b2" stroke-width="0.4" stroke-linejoin="round"/>
<line x1="991.45" y1="954.4" x2="991.58" y2="948.4" stroke="#111" stroke-width="1.0"/>
<line x1="991.88" y1="948.7" x2="990.38" y2="947.6" stroke="#111" stroke-width="0.9"/>
<polygon points="911.89,966.36 916.29,970.79 916.31,967.79 911.91,963.38" fill="#c6c6c6" stroke="#c6c6c6" stroke-width="0.4" stroke-linejoin="round"/>
<polygon points="916.29,970.79 927.04,969.37 927.07,966.38 916.31,967.79" fill="#7d7e7e" stroke="#7d7e7e" stroke-width="0.4" stroke-linejoin="round"/>
<polygon points="911.91,963.38 922.6,961.98 927.07,966.38 916.31,967.79" fill="#b2b2b2" stroke="#b2b2b2" stroke-width="0.4" stroke-linejoin="round"/>
<line x1="919.47" y1="964.87" x2="919.51" y2="959.87" stroke="#111" stroke-width="1.0"/>
<line x1="919.81" y1="960.17" x2="918.31" y2="959.07" stroke="#111" stroke-width="0.9"/>
<polygon points="837.74,976.09 841.67,980.67 841.45,949.67 837.5,945.29" fill="#c6c6c6" stroke="#c6c6c6" stroke-width="0.4" stroke-linejoin="round"/>
<polygon points="841.67,980.67 852.77,979.2 852.61,948.26 841.45,949.67" fill="#7d7e7e" stroke="#7d7e7e" stroke-width="0.4" stroke-linejoin="round"/>
<polygon points="837.5,945.29 848.59,943.91 852.61,948.26 841.45,949.67" fill="#b2b2b2" stroke="#b2b2b2" stroke-width="0.4" stroke-linejoin="round"/>
<line x1="845.04" y1="946.77" x2="844.93" y2="930.77" stroke="#111" stroke-width="1.0"/>
<line x1="845.23" y1="931.07" x2="843.73" y2="929.97" stroke="#111" stroke-width="0.9"/>
<polygon points="761.18,986.14 764.61,990.86 761.66,853.86 758.16,850.04" fill="#c6c6c6" stroke="#c6c6c6" stroke-width="0.4" stroke-linejoin="round"/>
<polygon points="764.61,990.86 776.07,989.34 773.42,852.64 761.66,853.86" fill="#7d7e7e" stroke="#7d7e7e" stroke-width="0.4" stroke-linejoin="round"/>
<polygon points="758.16,850.04 769.84,848.84 773.42,852.64 761.66,853.86" fill="#b2b2b2" stroke="#b2b2b2" stroke-width="0.4" stroke-linejoin="round"/>
<line x1="765.77" y1="851.34" x2="765.3" y2="828.64" stroke="#111" stroke-width="1.0"/>
<line x1="765.6" y1="828.94" x2="764.1" y2="827.84" stroke="#111" stroke-width="0.9"/>
<polygon points="1071.3,961.46 1076,965.19 1076.05,963.99 1071.34,960.26" fill="#c6c6c6" stroke="#c6c6c6" stroke-width="0.4" stroke-linejoin="round"/>
<polygon points="1076,965.19 1085.15,963.95 1085.2,962.75 1076.05,963.99" fill="#7d7e7e" stroke="#7d7e7e" stroke-width="0.4" stroke-linejoin="round"/>
<polygon points="1071.34,960.26 1080.45,959.04 1085.2,962.75 1076.05,963.99" fill="#959595" stroke="#959595" stroke-width="0.4" stroke-linejoin="round"/>
<line x1="1078.06" y1="960.21" x2="1078.46" y2="962.81" stroke="#333" stroke-width="1.8"/>
<polygon points="1000.29,971.03 1004.63,974.88 1004.66,973.68 1000.32,969.83" fill="#c6c6c6" stroke="#c6c6c6" stroke-width="0.4" stroke-linejoin="round"/>
<polygon points="1004.63,974.88 1014.08,973.6 1014.11,972.4 1004.66,973.68" fill="#7d7e7e" stroke="#7d7e7e" stroke-width="0.4" stroke-linejoin="round"/>
<polygon points="1000.32,969.83 1009.72,968.57 1014.11,972.4 1004.66,973.68" fill="#959595" stroke="#959595" stroke-width="0.4" stroke-linejoin="round"/>
<line x1="1007" y1="969.82" x2="1007.4" y2="972.42" stroke="#333" stroke-width="1.8"/>
<polygon points="927.01,980.9 930.96,984.88 930.97,983.68 927.02,979.71" fill="#c6c6c6" stroke="#c6c6c6" stroke-width="0.4" stroke-linejoin="round"/>
<polygon points="930.96,984.88 940.71,983.56 940.72,982.36 930.97,983.68" fill="#7d7e7e" stroke="#7d7e7e" stroke-width="0.4" stroke-linejoin="round"/>
<polygon points="927.02,979.71 936.72,978.41 940.72,982.36 930.97,983.68" fill="#959595" stroke="#959595" stroke-width="0.4" stroke-linejoin="round"/>
<line x1="933.66" y1="979.73" x2="934.06" y2="982.33" stroke="#333" stroke-width="1.8"/>
<polygon points="850.42,990.85 854.54,995.64 854.48,982.44 850.35,977.73" fill="#c6c6c6" stroke="#c6c6c6" stroke-width="0.4" stroke-linejoin="round"/>
<polygon points="854.54,995.64 865.87,994.1 865.83,980.93 854.48,982.44" fill="#7d7e7e" stroke="#7d7e7e" stroke-width="0.4" stroke-linejoin="round"/>
<polygon points="850.35,977.73 861.63,976.25 865.83,980.93 854.48,982.44" fill="#b2b2b2" stroke="#b2b2b2" stroke-width="0.4" stroke-linejoin="round"/>
<line x1="858.07" y1="979.33" x2="858.06" y2="975.33" stroke="#111" stroke-width="1.0"/>
<line x1="858.36" y1="975.63" x2="856.86" y2="974.53" stroke="#111" stroke-width="0.9"/>
<polygon points="772.25,1001.38 775.85,1006.33 775.68,997.33 772.07,992.44" fill="#c6c6c6" stroke="#c6c6c6" stroke-width="0.4" stroke-linejoin="round"/>
<polygon points="775.85,1006.33 787.56,1004.74 787.4,995.76 775.68,997.33" fill="#7d7e7e" stroke="#7d7e7e" stroke-width="0.4" stroke-linejoin="round"/>
<polygon points="772.07,992.44 783.72,990.89 787.4,995.76 775.68,997.33" fill="#b2b2b2" stroke="#b2b2b2" stroke-width="0.4" stroke-linejoin="round"/>
<line x1="779.72" y1="994.09" x2="779.61" y2="988.09" stroke="#111" stroke-width="1.0"/>
<line x1="779.91" y1="988.39" x2="778.41" y2="987.29" stroke="#111" stroke-width="0.9"/>
<polygon points="1089.01,975.52 1093.93,979.43 1093.97,978.23 1089.05,974.33" fill="#c6c6c6" stroke="#c6c6c6" stroke-width="0.4" stroke-linejoin="round"/>
<polygon points="1093.93,979.43 1103.25,978.13 1103.3,976.93 1093.97,978.23" fill="#7d7e7e" stroke="#7d7e7e" stroke-width="0.4" stroke-linejoin="round"/>
<polygon points="1089.05,974.33 1098.33,973.05 1103.3,976.93 1093.97,978.23" fill="#959595" stroke="#959595" stroke-width="0.4" stroke-linejoin="round"/>
<line x1="1095.96" y1="974.33" x2="1096.36" y2="976.93" stroke="#333" stroke-width="1.8"/>
<polygon points="1015.67,985.29 1020.97,990 1021.07,986 1015.77,981.31" fill="#c6c6c6" stroke="#c6c6c6" stroke-width="0.4" stroke-linejoin="round"/>
<polygon points="1020.97,990 1031.79,988.49 1031.91,984.49 1021.07,986" fill="#7d7e7e" stroke="#7d7e7e" stroke-width="0.4" stroke-linejoin="round"/>
<polygon points="1015.77,981.31 1026.54,979.83 1031.91,984.49 1021.07,986" fill="#b2b2b2" stroke="#b2b2b2" stroke-width="0.4" stroke-linejoin="round"/>
<line x1="1023.82" y1="982.9" x2="1023.95" y2="977.9" stroke="#111" stroke-width="1.0"/>
<line x1="1024.25" y1="978.2" x2="1022.75" y2="977.1" stroke="#111" stroke-width="0.9"/>
<polygon points="941.9,995.89 946.04,1000.06 946.05,998.86 941.91,994.7" fill="#c6c6c6" stroke="#c6c6c6" stroke-width="0.4" stroke-linejoin="round"/>
<polygon points="946.04,1000.06 955.98,998.67 956,997.47 946.05,998.86" fill="#7d7e7e" stroke="#7d7e7e" stroke-width="0.4" stroke-linejoin="round"/>
<polygon points="941.91,994.7 951.81,993.33 956,997.47 946.05,998.86" fill="#959595" stroke="#959595" stroke-width="0.4" stroke-linejoin="round"/>
<line x1="948.74" y1="994.78" x2="949.14" y2="997.38" stroke="#333" stroke-width="1.8"/>
<polygon points="863.71,1006.31 868.03,1011.34 867.93,964.34 863.57,959.63" fill="#c6c6c6" stroke="#c6c6c6" stroke-width="0.4" stroke-linejoin="round"/>
<polygon points="868.03,1011.34 879.6,1009.73 879.6,962.83 867.93,964.34" fill="#7d7e7e" stroke="#7d7e7e" stroke-width="0.4" stroke-linejoin="round"/>
<polygon points="863.57,959.63 875.16,958.14 879.6,962.83 867.93,964.34" fill="#b2b2b2" stroke="#b2b2b2" stroke-width="0.4" stroke-linejoin="round"/>
<line x1="871.57" y1="961.22" x2="871.54" y2="942.22" stroke="#111" stroke-width="1.0"/>
<line x1="871.84" y1="942.52" x2="870.34" y2="941.42" stroke="#111" stroke-width="0.9"/>
<polygon points="783.87,1017.36 787.64,1022.56 787.11,992.06 783.32,987.07" fill="#c6c6c6" stroke="#c6c6c6" stroke-width="0.4" stroke-linejoin="round"/>
<polygon points="787.64,1022.56 799.61,1020.89 799.15,990.46 787.11,992.06" fill="#7d7e7e" stroke="#7d7e7e" stroke-width="0.4" stroke-linejoin="round"/>
<polygon points="783.32,987.07 795.27,985.49 799.15,990.46 787.11,992.06" fill="#b2b2b2" stroke="#b2b2b2" stroke-width="0.4" stroke-linejoin="round"/>
<line x1="791.21" y1="988.76" x2="791.03" y2="977.76" stroke="#111" stroke-width="1.0"/>
<line x1="791.33" y1="978.06" x2="789.83" y2="976.96" stroke="#111" stroke-width="0.9"/>
<polygon points="1107.54,990.24 1112.7,994.33 1112.75,993.13 1107.59,989.05" fill="#c6c6c6" stroke="#c6c6c6" stroke-width="0.4" stroke-linejoin="round"/>
<polygon points="1112.7,994.33 1122.2,992.97 1122.25,991.77 1112.75,993.13" fill="#7d7e7e" stroke="#7d7e7e" stroke-width="0.4" stroke-linejoin="round"/>
<polygon points="1107.59,989.05 1117.05,987.7 1122.25,991.77 1112.75,993.13" fill="#959595" stroke="#959595" stroke-width="0.4" stroke-linejoin="round"/>
<line x1="1114.71" y1="989.11" x2="1115.11" y2="991.71" stroke="#333" stroke-width="1.8"/>
<polygon points="1033.76,1000.74 1038.53,1004.97 1038.56,1003.77 1033.8,999.55" fill="#c6c6c6" stroke="#c6c6c6" stroke-width="0.4" stroke-linejoin="round"/>
<polygon points="1038.53,1004.97 1048.34,1003.56 1048.38,1002.36 1038.56,1003.77" fill="#7d7e7e" stroke="#7d7e7e" stroke-width="0.4" stroke-linejoin="round"/>
<polygon points="1033.8,999.55 1043.57,998.16 1048.38,1002.36 1038.56,1003.77" fill="#959595" stroke="#959595" stroke-width="0.4" stroke-linejoin="round"/>
<line x1="1040.87" y1="999.65" x2="1041.27" y2="1002.25" stroke="#333" stroke-width="1.8"/>
<polygon points="957.5,1011.6 961.84,1015.97 961.86,1014.77 957.52,1010.4" fill="#c6c6c6" stroke="#c6c6c6" stroke-width="0.4" stroke-linejoin="round"/>
<polygon points="961.84,1015.97 972,1014.51 972.02,1013.31 961.86,1014.77" fill="#7d7e7e" stroke="#7d7e7e" stroke-width="0.4" stroke-linejoin="round"/>
<polygon points="957.52,1010.4 967.62,1008.97 972.02,1013.31 961.86,1014.77" fill="#959595" stroke="#959595" stroke-width="0.4" stroke-linejoin="round"/>
<line x1="964.55" y1="1010.56" x2="964.95" y2="1013.16" stroke="#333" stroke-width="1.8"/>
<polygon points="877.66,1022.54 882.19,1027.82 882.22,983.22 877.64,978.24" fill="#c6c6c6" stroke="#c6c6c6" stroke-width="0.4" stroke-linejoin="round"/>
<polygon points="882.19,1027.82 894.01,1026.12 894.13,981.62 882.22,983.22" fill="#7d7e7e" stroke="#7d7e7e" stroke-width="0.4" stroke-linejoin="round"/>
<polygon points="877.64,978.24 889.48,976.67 894.13,981.62 882.22,983.22" fill="#b2b2b2" stroke="#b2b2b2" stroke-width="0.4" stroke-linejoin="round"/>
<line x1="885.86" y1="979.93" x2="885.88" y2="963.13" stroke="#111" stroke-width="1.0"/>
<line x1="886.18" y1="963.43" x2="884.68" y2="962.33" stroke="#111" stroke-width="0.9"/>
<polygon points="796.06,1034.15 800.02,1039.61 799.98,1036.61 796.01,1031.17" fill="#c6c6c6" stroke="#c6c6c6" stroke-width="0.4" stroke-linejoin="round"/>
<polygon points="800.02,1039.61 812.26,1037.85 812.22,1034.86 799.98,1036.61" fill="#7d7e7e" stroke="#7d7e7e" stroke-width="0.4" stroke-linejoin="round"/>
<polygon points="796.01,1031.17 808.16,1029.45 812.22,1034.86 799.98,1036.61" fill="#b2b2b2" stroke="#b2b2b2" stroke-width="0.4" stroke-linejoin="round"/>
<line x1="804.09" y1="1033.01" x2="804.04" y2="1029.01" stroke="#111" stroke-width="1.0"/>
<line x1="804.34" y1="1029.31" x2="802.84" y2="1028.21" stroke="#111" stroke-width="0.9"/>
<polyline points="667.79,595.35 679.76,918.85 768.19,1050.9 1124.56,999.26" fill="none" stroke="#000" stroke-width="1.6" stroke-linejoin="miter"/>
<line x1="679.74" y1="918.2" x2="673.48" y2="918.92" stroke="#000" stroke-width="1.2"/>
<text transform="translate(667.98 924.52) rotate(-2.4)" font-family="'Liberation Serif',serif" font-size="14.2" font-weight="normal" font-style="normal" text-anchor="end">0</text>
<line x1="677.35" y1="853.6" x2="671.08" y2="854.24" stroke="#000" stroke-width="1.2"/>
<text transform="translate(665.58 859.84) rotate(-2.4)" font-family="'Liberation Serif',serif" font-size="14.2" font-weight="normal" font-style="normal" text-anchor="end">6000</text>
<line x1="674.83" y1="785.5" x2="668.55" y2="786.05" stroke="#000" stroke-width="1.2"/>
<text transform="translate(663.05 791.65) rotate(-2.4)" font-family="'Liberation Serif',serif" font-size="14.2" font-weight="normal" font-style="normal" text-anchor="end">12000</text>
<line x1="672.22" y1="715.1" x2="665.94" y2="715.56" stroke="#000" stroke-width="1.2"/>
<text transform="translate(660.44 721.16) rotate(-2.4)" font-family="'Liberation Serif',serif" font-size="14.2" font-weight="normal" font-style="normal" text-anchor="end">18000</text>
<line x1="669.61" y1="644.5" x2="663.32" y2="644.87" stroke="#000" stroke-width="1.2"/>
<text transform="translate(657.82 650.47) rotate(-2.4)" font-family="'Liberation Serif',serif" font-size="14.2" font-weight="normal" font-style="normal" text-anchor="end">24000</text>
<line x1="683.8" y1="924.87" x2="677.34" y2="925.62" stroke="#000" stroke-width="1.3"/>
<text transform="matrix(1.3950 -0.1633 0.2802 0.4328 673.30 928.47)" font-family="'Liberation Serif',serif" font-size="10" font-weight="bold" font-style="normal" text-anchor="end" stroke="#000" stroke-width="0.3">Dec-18</text>
<line x1="692.13" y1="937.31" x2="685.67" y2="938.08" stroke="#000" stroke-width="1.3"/>
<text transform="matrix(1.4228 -0.1705 0.2924 0.4517 681.45 941.07)" font-family="'Liberation Serif',serif" font-size="10" font-weight="bold" font-style="normal" text-anchor="end" stroke="#000" stroke-width="0.3">Feb-19</text>
<line x1="700.82" y1="950.29" x2="694.37" y2="951.08" stroke="#000" stroke-width="1.3"/>
<text transform="matrix(1.4517 -0.1782 0.3055 0.4718 689.97 954.22)" font-family="'Liberation Serif',serif" font-size="10" font-weight="bold" font-style="normal" text-anchor="end" stroke="#000" stroke-width="0.3">Apr-19</text>
<line x1="709.91" y1="963.86" x2="703.46" y2="964.67" stroke="#000" stroke-width="1.3"/>
<text transform="matrix(1.4818 -0.1864 0.3195 0.4934 698.87 967.97)" font-family="'Liberation Serif',serif" font-size="10" font-weight="bold" font-style="normal" text-anchor="end" stroke="#000" stroke-width="0.3">Jun-19</text>
<line x1="719.41" y1="978.05" x2="712.96" y2="978.88" stroke="#000" stroke-width="1.3"/>
<text transform="matrix(1.5132 -0.1952 0.3344 0.5165 708.18 982.35)" font-family="'Liberation Serif',serif" font-size="10" font-weight="bold" font-style="normal" text-anchor="end" stroke="#000" stroke-width="0.3">Jul-19</text>
<line x1="729.36" y1="992.91" x2="722.91" y2="993.76" stroke="#000" stroke-width="1.3"/>
<text transform="matrix(1.5458 -0.2046 0.3504 0.5412 717.93 997.41)" font-family="'Liberation Serif',serif" font-size="10" font-weight="bold" font-style="normal" text-anchor="end" stroke="#000" stroke-width="0.3">Aug-19</text>
<line x1="739.78" y1="1008.48" x2="733.34" y2="1009.35" stroke="#000" stroke-width="1.3"/>
<text transform="matrix(1.5800 -0.2147 0.3676 0.5678 728.16 1013.20)" font-family="'Liberation Serif',serif" font-size="10" font-weight="bold" font-style="normal" text-anchor="end" stroke="#000" stroke-width="0.3">Sep-19</text>
<line x1="750.73" y1="1024.82" x2="744.29" y2="1025.71" stroke="#000" stroke-width="1.3"/>
<text transform="matrix(1.6156 -0.2256 0.3861 0.5963 738.89 1029.78)" font-family="'Liberation Serif',serif" font-size="10" font-weight="bold" font-style="normal" text-anchor="end" stroke="#000" stroke-width="0.3">Oct-19</text>
<line x1="762.22" y1="1041.98" x2="755.79" y2="1042.9" stroke="#000" stroke-width="1.3"/>
<text transform="matrix(1.6529 -0.2374 0.4060 0.6271 750.17 1047.20)" font-family="'Liberation Serif',serif" font-size="10" font-weight="bold" font-style="normal" text-anchor="end" stroke="#000" stroke-width="0.3">Dec-19</text>
<line x1="810.58" y1="1044.75" x2="812.66" y2="1047.57" stroke="#000" stroke-width="1.3"/>
<line x1="893.17" y1="1032.79" x2="895.46" y2="1035.43" stroke="#000" stroke-width="1.3"/>
<line x1="972.93" y1="1021.23" x2="975.41" y2="1023.7" stroke="#000" stroke-width="1.3"/>
<line x1="1050.01" y1="1010.06" x2="1052.64" y2="1012.37" stroke="#000" stroke-width="1.3"/>
<line x1="1124.56" y1="999.26" x2="1127.3" y2="1001.42" stroke="#000" stroke-width="1.3"/>
<text transform="translate(680 653.5) rotate(-3)" font-family="'Liberation Serif',serif" font-size="24.8" font-weight="normal" font-style="normal" text-anchor="start">Water column</text>
<text transform="translate(619.5 766) rotate(-92)" font-family="'Liberation Serif',serif" font-size="17" font-weight="bold" font-style="normal" text-anchor="middle">Abundance (cells L<tspan dy="-6" font-size="11">-1</tspan><tspan dy="6">)</tspan></text>
<text transform="matrix(1.3840 -0.2044 0.5795 0.7935 815.46 1057.07)" font-family="'Liberation Serif',serif" font-size="10" font-weight="bold" font-style="normal" text-anchor="start" stroke="#000" stroke-width="0.3">A</text>
<text transform="matrix(1.3364 -0.1973 0.6602 0.7665 898.26 1044.93)" font-family="'Liberation Serif',serif" font-size="10" font-weight="bold" font-style="normal" text-anchor="start" stroke="#000" stroke-width="0.3">D</text>
<text transform="matrix(1.2911 -0.1907 0.7351 0.7408 978.21 1033.20)" font-family="'Liberation Serif',serif" font-size="10" font-weight="bold" font-style="normal" text-anchor="start" stroke="#000" stroke-width="0.3">B</text>
<text transform="matrix(1.2482 -0.1844 0.8047 0.7164 1055.44 1021.87)" font-family="'Liberation Serif',serif" font-size="10" font-weight="bold" font-style="normal" text-anchor="start" stroke="#000" stroke-width="0.3">C</text>
<text transform="matrix(1.2074 -0.1783 0.8693 0.6932 1130.10 1010.92)" font-family="'Liberation Serif',serif" font-size="10" font-weight="bold" font-style="normal" text-anchor="start" stroke="#000" stroke-width="0.3">E</text>
<text transform="matrix(1.4401 -0.2181 0.6671 0.7005 968.60 1052.00)" font-family="'Liberation Serif',serif" font-size="13" font-weight="bold" font-style="normal" text-anchor="middle" stroke="#000" stroke-width="0.3">Station</text>
<text transform="matrix(0.3115 0.5828 -1.5524 0.1998 640.20 989.70)" font-family="'Liberation Serif',serif" font-size="12.5" font-weight="bold" font-style="normal" text-anchor="middle" stroke="#000" stroke-width="0.3">Month</text>
</g>
<text x="0.6" y="24.2" font-family="'Liberation Sans',sans-serif" font-weight="bold" font-size="30.2">A</text>
<text x="604.9" y="24.3" font-family="'Liberation Sans',sans-serif" font-weight="bold" font-size="30.2">B</text>
<text x="1.1" y="584.2" font-family="'Liberation Sans',sans-serif" font-weight="bold" font-size="30.2">C</text>
<text x="596.6" y="583.9" font-family="'Liberation Sans',sans-serif" font-weight="bold" font-size="30.2">D</text>
</svg>
</body></html>
